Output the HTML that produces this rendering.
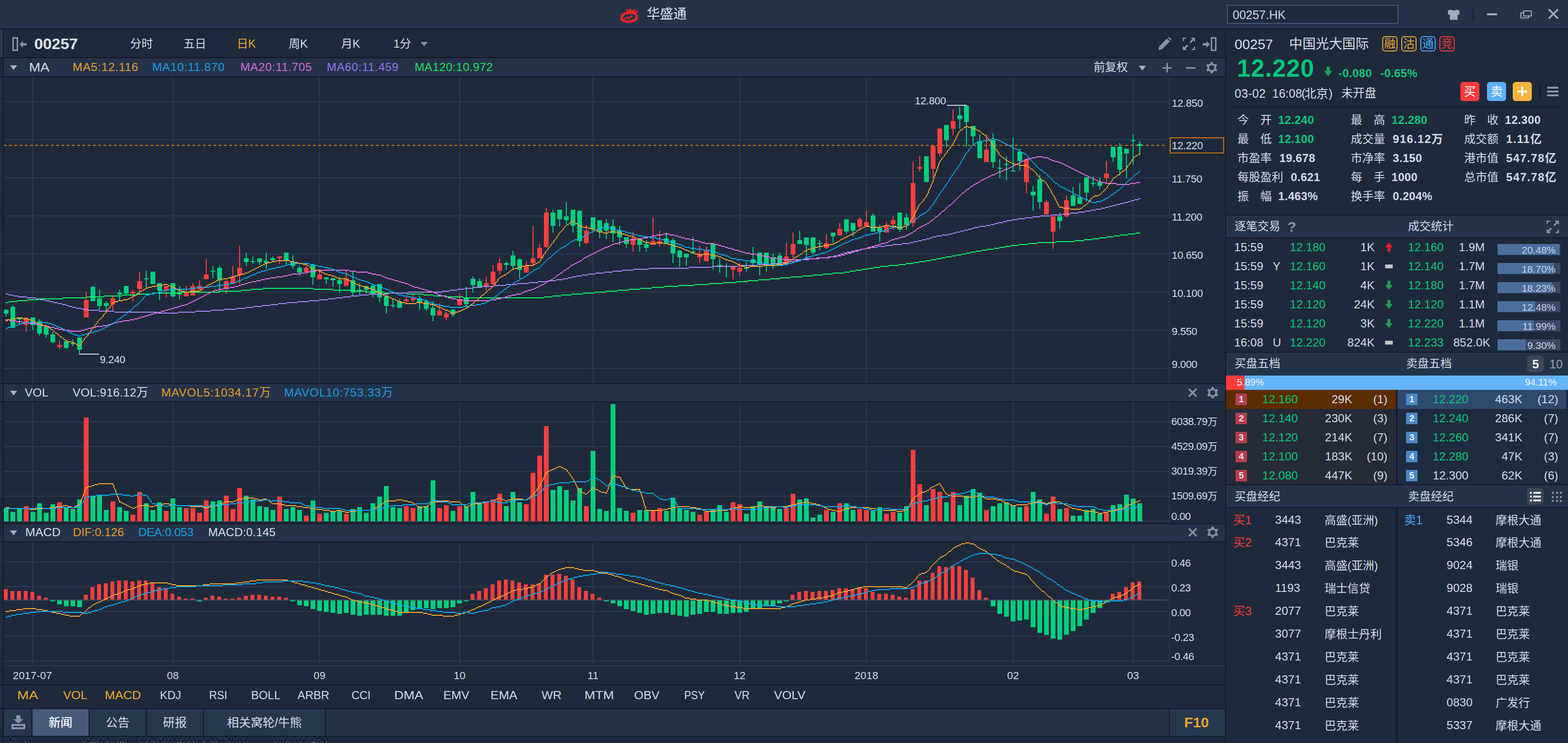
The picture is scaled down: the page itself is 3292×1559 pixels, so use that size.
<!DOCTYPE html>
<html lang="zh"><head><meta charset="utf-8"><title>华盛通 - 00257.HK</title>
<style>
html,body{margin:0;padding:0;background:#1e2a3b;}
body{width:3292px;height:1559px;position:relative;overflow:hidden;font-family:"Liberation Sans","Noto Sans CJK SC",sans-serif;}
.t{position:absolute;display:flex;align-items:center;white-space:nowrap;line-height:40px;}
#chart{position:absolute;left:0;top:0;}
</style></head><body>
<div style="position:absolute;left:0px;top:0px;width:3292px;height:60px;background:#243349;"></div><div style="position:absolute;left:0px;top:60px;width:3292px;height:2px;background:#17182a;"></div><div style="position:absolute;left:0px;top:62px;width:6px;height:1497px;background:#1e2a3b;"></div><div style="position:absolute;left:0px;top:162px;width:6px;height:80px;background:#222e41;"></div><div style="position:absolute;left:0px;top:322px;width:6px;height:80px;background:#222e41;"></div><div style="position:absolute;left:0px;top:482px;width:6px;height:80px;background:#222e41;"></div><div style="position:absolute;left:0px;top:642px;width:6px;height:80px;background:#222e41;"></div><div style="position:absolute;left:0px;top:802px;width:6px;height:80px;background:#222e41;"></div><div style="position:absolute;left:0px;top:962px;width:6px;height:80px;background:#222e41;"></div><div style="position:absolute;left:0px;top:1122px;width:6px;height:80px;background:#222e41;"></div><div style="position:absolute;left:0px;top:1282px;width:6px;height:80px;background:#222e41;"></div><div style="position:absolute;left:0px;top:1442px;width:6px;height:80px;background:#222e41;"></div><div style="position:absolute;left:0px;top:62px;width:6px;height:58px;background:#283a55;"></div><div style="position:absolute;left:6px;top:62px;width:2px;height:1497px;background:#17182a;"></div><div style="position:absolute;left:8px;top:62px;width:2564px;height:58px;background:#1e2a3b;"></div><div style="position:absolute;left:0px;top:120px;width:2574px;height:2px;background:#17182a;"></div><div style="position:absolute;left:8px;top:122px;width:2564px;height:38px;background:#243349;"></div><div style="position:absolute;left:0px;top:160px;width:2574px;height:2px;background:#17182a;"></div><div style="position:absolute;left:8px;top:162px;width:2564px;height:642px;background:#1e2a3b;"></div><div style="position:absolute;left:0px;top:804px;width:2574px;height:2px;background:#17182a;"></div><div style="position:absolute;left:8px;top:806px;width:2564px;height:36px;background:#243349;"></div><div style="position:absolute;left:0px;top:842px;width:2574px;height:2px;background:#17182a;"></div><div style="position:absolute;left:8px;top:844px;width:2564px;height:254px;background:#1e2a3b;"></div><div style="position:absolute;left:0px;top:1098px;width:2574px;height:2px;background:#17182a;"></div><div style="position:absolute;left:8px;top:1100px;width:2564px;height:36px;background:#243349;"></div><div style="position:absolute;left:0px;top:1136px;width:2574px;height:2px;background:#17182a;"></div><div style="position:absolute;left:8px;top:1138px;width:2564px;height:298px;background:#1e2a3b;"></div><div style="position:absolute;left:0px;top:1436px;width:2574px;height:2px;background:#17182a;"></div><div style="position:absolute;left:8px;top:1438px;width:2564px;height:48px;background:#1e2a3b;"></div><div style="position:absolute;left:0px;top:1486px;width:2574px;height:2px;background:#17182a;"></div><div style="position:absolute;left:8px;top:1488px;width:2564px;height:56px;background:#243349;"></div><div style="position:absolute;left:0px;top:1544px;width:2574px;height:2px;background:#17182a;"></div><div style="position:absolute;left:8px;top:1546px;width:2564px;height:13px;background:#1e2a3b;"></div><div style="position:absolute;left:2572px;top:62px;width:2px;height:1497px;background:#17182a;"></div><div style="position:absolute;left:2574px;top:62px;width:718px;height:1497px;background:#1e2a3b;"></div><svg id="chart" width="3292" height="1559" viewBox="0 0 3292 1559" shape-rendering="crispEdges"><rect x="8" y="212" width="2446" height="2" fill="#2b3850"/><rect x="8" y="292" width="2446" height="2" fill="#2b3850"/><rect x="8" y="372" width="2446" height="2" fill="#2b3850"/><rect x="8" y="452" width="2446" height="2" fill="#2b3850"/><rect x="8" y="532" width="2446" height="2" fill="#2b3850"/><rect x="8" y="612" width="2446" height="2" fill="#2b3850"/><rect x="8" y="692" width="2446" height="2" fill="#2b3850"/><rect x="8" y="772" width="2446" height="2" fill="#2b3850"/><rect x="8" y="884" width="2446" height="2" fill="#2b3850"/><rect x="8" y="936" width="2446" height="2" fill="#2b3850"/><rect x="8" y="988" width="2446" height="2" fill="#2b3850"/><rect x="8" y="1040" width="2446" height="2" fill="#2b3850"/><rect x="8" y="1092" width="2446" height="2" fill="#2b3850"/><rect x="8" y="1178" width="2446" height="2" fill="#2b3850"/><rect x="8" y="1230" width="2446" height="2" fill="#2b3850"/><rect x="8" y="1282" width="2446" height="2" fill="#2b3850"/><rect x="8" y="1334" width="2446" height="2" fill="#2b3850"/><rect x="8" y="1386" width="2446" height="2" fill="#2b3850"/><rect x="68" y="162" width="2" height="642" fill="#2b3850"/><rect x="68" y="844" width="2" height="254" fill="#2b3850"/><rect x="68" y="1138" width="2" height="256" fill="#2b3850"/><rect x="362" y="162" width="2" height="642" fill="#2b3850"/><rect x="362" y="844" width="2" height="254" fill="#2b3850"/><rect x="362" y="1138" width="2" height="256" fill="#2b3850"/><rect x="670" y="162" width="2" height="642" fill="#2b3850"/><rect x="670" y="844" width="2" height="254" fill="#2b3850"/><rect x="670" y="1138" width="2" height="256" fill="#2b3850"/><rect x="964" y="162" width="2" height="642" fill="#2b3850"/><rect x="964" y="844" width="2" height="254" fill="#2b3850"/><rect x="964" y="1138" width="2" height="256" fill="#2b3850"/><rect x="1244" y="162" width="2" height="642" fill="#2b3850"/><rect x="1244" y="844" width="2" height="254" fill="#2b3850"/><rect x="1244" y="1138" width="2" height="256" fill="#2b3850"/><rect x="1552" y="162" width="2" height="642" fill="#2b3850"/><rect x="1552" y="844" width="2" height="254" fill="#2b3850"/><rect x="1552" y="1138" width="2" height="256" fill="#2b3850"/><rect x="1818" y="162" width="2" height="642" fill="#2b3850"/><rect x="1818" y="844" width="2" height="254" fill="#2b3850"/><rect x="1818" y="1138" width="2" height="256" fill="#2b3850"/><rect x="2126" y="162" width="2" height="642" fill="#2b3850"/><rect x="2126" y="844" width="2" height="254" fill="#2b3850"/><rect x="2126" y="1138" width="2" height="256" fill="#2b3850"/><rect x="2378" y="162" width="2" height="642" fill="#2b3850"/><rect x="2378" y="844" width="2" height="254" fill="#2b3850"/><rect x="2378" y="1138" width="2" height="256" fill="#2b3850"/><rect x="2454" y="162" width="2" height="642" fill="#2b3850"/><rect x="2454" y="844" width="2" height="254" fill="#2b3850"/><rect x="2454" y="1138" width="2" height="256" fill="#2b3850"/><rect x="8" y="1396" width="2564" height="1.5" fill="#2b3850"/><line x1="8" y1="305" x2="2450" y2="305" stroke="#c87812" stroke-width="2" stroke-dasharray="6 5"/><rect x="12" y="648.0" width="2" height="16.0" fill="#00cf7e"/><rect x="8" y="650.0" width="10" height="7.7" fill="#00cf7e"/><rect x="26" y="640.0" width="2" height="48.0" fill="#00cf7e"/><rect x="22" y="644.0" width="10" height="44.0" fill="#00cf7e"/><rect x="40" y="666.0" width="2" height="16.4" fill="#00cf7e"/><rect x="36" y="666.0" width="10" height="3.7" fill="#00cf7e"/><rect x="54" y="666.0" width="2" height="30.0" fill="#ff3f3f"/><rect x="50" y="666.2" width="10" height="15.5" fill="#ff3f3f"/><rect x="68" y="666.0" width="2" height="26.0" fill="#00cf7e"/><rect x="64" y="666.0" width="10" height="15.7" fill="#00cf7e"/><rect x="82" y="670.0" width="2" height="34.0" fill="#00cf7e"/><rect x="78" y="674.0" width="10" height="26.0" fill="#00cf7e"/><rect x="96" y="682.4" width="2" height="25.6" fill="#00cf7e"/><rect x="92" y="684.6" width="10" height="17.2" fill="#00cf7e"/><rect x="110" y="696.0" width="2" height="24.0" fill="#00cf7e"/><rect x="106" y="702.0" width="10" height="15.8" fill="#00cf7e"/><rect x="124" y="714.0" width="2" height="18.0" fill="#ff3f3f"/><rect x="120" y="724.0" width="10" height="4.0" fill="#ff3f3f"/><rect x="138" y="716.0" width="2" height="16.0" fill="#00cf7e"/><rect x="134" y="716.0" width="10" height="14.0" fill="#00cf7e"/><rect x="152" y="712.0" width="2" height="14.0" fill="#00cf7e"/><rect x="148" y="720.2" width="10" height="2" fill="#00cf7e"/><rect x="166" y="708.0" width="2" height="34.5" fill="#00cf7e"/><rect x="162" y="708.0" width="10" height="26.0" fill="#00cf7e"/><rect x="180" y="612.0" width="2" height="54.0" fill="#ff3f3f"/><rect x="176" y="630.0" width="10" height="36.0" fill="#ff3f3f"/><rect x="194" y="600.0" width="2" height="31.6" fill="#00cf7e"/><rect x="190" y="602.0" width="10" height="29.6" fill="#00cf7e"/><rect x="208" y="608.0" width="2" height="42.0" fill="#00cf7e"/><rect x="204" y="626.0" width="10" height="16.0" fill="#00cf7e"/><rect x="222" y="632.0" width="2" height="20.0" fill="#00cf7e"/><rect x="218" y="636.0" width="10" height="6.0" fill="#00cf7e"/><rect x="236" y="620.0" width="2" height="32.0" fill="#ff3f3f"/><rect x="232" y="626.0" width="10" height="13.3" fill="#ff3f3f"/><rect x="250" y="608.0" width="2" height="22.0" fill="#00cf7e"/><rect x="246" y="614.0" width="10" height="4.2" fill="#00cf7e"/><rect x="264" y="600.0" width="2" height="20.3" fill="#00cf7e"/><rect x="260" y="600.0" width="10" height="16.0" fill="#00cf7e"/><rect x="278" y="608.0" width="2" height="24.0" fill="#ff3f3f"/><rect x="274" y="612.2" width="10" height="3.8" fill="#ff3f3f"/><rect x="292" y="570.0" width="2" height="48.0" fill="#ff3f3f"/><rect x="288" y="590.0" width="10" height="16.0" fill="#ff3f3f"/><rect x="306" y="568.0" width="2" height="36.0" fill="#00cf7e"/><rect x="302" y="584.0" width="10" height="2.0" fill="#00cf7e"/><rect x="320" y="570.0" width="2" height="26.0" fill="#00cf7e"/><rect x="316" y="570.0" width="10" height="26.0" fill="#00cf7e"/><rect x="334" y="594.0" width="2" height="36.0" fill="#00cf7e"/><rect x="330" y="594.0" width="10" height="16.0" fill="#00cf7e"/><rect x="348" y="600.0" width="2" height="24.0" fill="#ff3f3f"/><rect x="344" y="600.0" width="10" height="10.0" fill="#ff3f3f"/><rect x="362" y="594.0" width="2" height="30.0" fill="#00cf7e"/><rect x="358" y="594.0" width="10" height="28.0" fill="#00cf7e"/><rect x="376" y="600.0" width="2" height="28.0" fill="#00cf7e"/><rect x="372" y="611.6" width="10" height="6.4" fill="#00cf7e"/><rect x="390" y="600.0" width="2" height="21.8" fill="#ff3f3f"/><rect x="386" y="614.2" width="10" height="7.6" fill="#ff3f3f"/><rect x="404" y="594.0" width="2" height="25.8" fill="#ff3f3f"/><rect x="400" y="600.0" width="10" height="19.8" fill="#ff3f3f"/><rect x="418" y="588.0" width="2" height="20.0" fill="#ff3f3f"/><rect x="414" y="600.0" width="10" height="8.0" fill="#ff3f3f"/><rect x="432" y="544.0" width="2" height="42.0" fill="#ff3f3f"/><rect x="428" y="576.0" width="10" height="10.0" fill="#ff3f3f"/><rect x="446" y="558.0" width="2" height="26.0" fill="#00cf7e"/><rect x="442" y="568.0" width="10" height="2.0" fill="#00cf7e"/><rect x="460" y="558.0" width="2" height="55.7" fill="#00cf7e"/><rect x="456" y="562.0" width="10" height="26.0" fill="#00cf7e"/><rect x="474" y="588.0" width="2" height="28.0" fill="#ff3f3f"/><rect x="470" y="590.0" width="10" height="16.0" fill="#ff3f3f"/><rect x="488" y="558.0" width="2" height="36.0" fill="#ff3f3f"/><rect x="484" y="580.0" width="10" height="14.0" fill="#ff3f3f"/><rect x="502" y="516.0" width="2" height="80.0" fill="#ff3f3f"/><rect x="498" y="562.0" width="10" height="16.0" fill="#ff3f3f"/><rect x="516" y="530.0" width="2" height="28.0" fill="#00cf7e"/><rect x="512" y="542.0" width="10" height="8.0" fill="#00cf7e"/><rect x="530" y="538.0" width="2" height="16.0" fill="#00cf7e"/><rect x="526" y="548.0" width="10" height="2.0" fill="#00cf7e"/><rect x="544" y="542.0" width="2" height="14.0" fill="#00cf7e"/><rect x="540" y="542.0" width="10" height="8.0" fill="#00cf7e"/><rect x="558" y="530.0" width="2" height="34.0" fill="#00cf7e"/><rect x="554" y="548.0" width="10" height="4.0" fill="#00cf7e"/><rect x="572" y="538.0" width="2" height="10.0" fill="#00cf7e"/><rect x="568" y="542.0" width="10" height="4.0" fill="#00cf7e"/><rect x="586" y="538.0" width="2" height="16.0" fill="#ff3f3f"/><rect x="582" y="538.0" width="10" height="4.0" fill="#ff3f3f"/><rect x="600" y="530.0" width="2" height="25.0" fill="#00cf7e"/><rect x="596" y="530.0" width="10" height="16.0" fill="#00cf7e"/><rect x="614" y="536.0" width="2" height="28.0" fill="#00cf7e"/><rect x="610" y="550.0" width="10" height="8.0" fill="#00cf7e"/><rect x="628" y="558.0" width="2" height="20.0" fill="#00cf7e"/><rect x="624" y="562.0" width="10" height="10.0" fill="#00cf7e"/><rect x="642" y="558.0" width="2" height="18.0" fill="#ff3f3f"/><rect x="638" y="562.0" width="10" height="8.0" fill="#ff3f3f"/><rect x="656" y="556.0" width="2" height="42.0" fill="#00cf7e"/><rect x="652" y="556.0" width="10" height="26.0" fill="#00cf7e"/><rect x="670" y="568.0" width="2" height="18.0" fill="#ff3f3f"/><rect x="666" y="576.0" width="10" height="10.0" fill="#ff3f3f"/><rect x="684" y="582.0" width="2" height="14.0" fill="#00cf7e"/><rect x="680" y="582.0" width="10" height="4.0" fill="#00cf7e"/><rect x="698" y="582.0" width="2" height="20.0" fill="#00cf7e"/><rect x="694" y="584.0" width="10" height="4.0" fill="#00cf7e"/><rect x="712" y="580.0" width="2" height="34.0" fill="#00cf7e"/><rect x="708" y="588.0" width="10" height="8.0" fill="#00cf7e"/><rect x="726" y="568.0" width="2" height="32.0" fill="#ff3f3f"/><rect x="722" y="584.0" width="10" height="16.0" fill="#ff3f3f"/><rect x="740" y="570.0" width="2" height="51.6" fill="#00cf7e"/><rect x="736" y="588.0" width="10" height="26.0" fill="#00cf7e"/><rect x="754" y="594.0" width="2" height="24.0" fill="#00cf7e"/><rect x="750" y="608.0" width="10" height="3.7" fill="#00cf7e"/><rect x="768" y="600.0" width="2" height="16.0" fill="#00cf7e"/><rect x="764" y="600.0" width="10" height="8.0" fill="#00cf7e"/><rect x="782" y="596.0" width="2" height="28.0" fill="#00cf7e"/><rect x="778" y="600.0" width="10" height="16.0" fill="#00cf7e"/><rect x="796" y="596.0" width="2" height="38.0" fill="#00cf7e"/><rect x="792" y="596.0" width="10" height="28.0" fill="#00cf7e"/><rect x="810" y="622.0" width="2" height="36.0" fill="#00cf7e"/><rect x="806" y="622.0" width="10" height="20.0" fill="#00cf7e"/><rect x="824" y="628.0" width="2" height="18.0" fill="#00cf7e"/><rect x="820" y="640.0" width="10" height="2.0" fill="#00cf7e"/><rect x="838" y="628.0" width="2" height="18.0" fill="#00cf7e"/><rect x="834" y="632.0" width="10" height="14.0" fill="#00cf7e"/><rect x="852" y="622.0" width="2" height="14.0" fill="#ff3f3f"/><rect x="848" y="628.0" width="10" height="4.0" fill="#ff3f3f"/><rect x="866" y="618.0" width="2" height="16.0" fill="#ff3f3f"/><rect x="862" y="626.0" width="10" height="4.0" fill="#ff3f3f"/><rect x="880" y="620.0" width="2" height="30.0" fill="#00cf7e"/><rect x="876" y="626.0" width="10" height="8.0" fill="#00cf7e"/><rect x="894" y="628.0" width="2" height="24.0" fill="#00cf7e"/><rect x="890" y="632.0" width="10" height="16.0" fill="#00cf7e"/><rect x="908" y="632.0" width="2" height="42.0" fill="#00cf7e"/><rect x="904" y="646.0" width="10" height="16.0" fill="#00cf7e"/><rect x="922" y="636.0" width="2" height="26.0" fill="#ff3f3f"/><rect x="918" y="652.0" width="10" height="10.0" fill="#ff3f3f"/><rect x="936" y="654.0" width="2" height="18.0" fill="#ff3f3f"/><rect x="932" y="658.0" width="10" height="8.0" fill="#ff3f3f"/><rect x="950" y="648.0" width="2" height="16.0" fill="#00cf7e"/><rect x="946" y="650.0" width="10" height="10.0" fill="#00cf7e"/><rect x="964" y="616.0" width="2" height="26.0" fill="#ff3f3f"/><rect x="960" y="630.0" width="10" height="10.0" fill="#ff3f3f"/><rect x="978" y="602.0" width="2" height="40.0" fill="#00cf7e"/><rect x="974" y="624.0" width="10" height="14.0" fill="#00cf7e"/><rect x="992" y="580.0" width="2" height="34.0" fill="#00cf7e"/><rect x="988" y="584.5" width="10" height="13.5" fill="#00cf7e"/><rect x="1006" y="584.0" width="2" height="18.0" fill="#00cf7e"/><rect x="1002" y="590.0" width="10" height="12.0" fill="#00cf7e"/><rect x="1020" y="580.0" width="2" height="30.0" fill="#ff3f3f"/><rect x="1016" y="594.0" width="10" height="8.0" fill="#ff3f3f"/><rect x="1034" y="556.0" width="2" height="42.0" fill="#ff3f3f"/><rect x="1030" y="570.0" width="10" height="26.0" fill="#ff3f3f"/><rect x="1048" y="542.0" width="2" height="34.0" fill="#ff3f3f"/><rect x="1044" y="552.0" width="10" height="16.0" fill="#ff3f3f"/><rect x="1062" y="548.0" width="2" height="18.0" fill="#00cf7e"/><rect x="1058" y="552.3" width="10" height="3.7" fill="#00cf7e"/><rect x="1076" y="526.0" width="2" height="40.0" fill="#00cf7e"/><rect x="1072" y="536.0" width="10" height="22.0" fill="#00cf7e"/><rect x="1090" y="542.0" width="2" height="42.0" fill="#00cf7e"/><rect x="1086" y="544.0" width="10" height="22.0" fill="#00cf7e"/><rect x="1104" y="548.0" width="2" height="24.0" fill="#ff3f3f"/><rect x="1100" y="558.0" width="10" height="14.0" fill="#ff3f3f"/><rect x="1118" y="474.0" width="2" height="82.0" fill="#ff3f3f"/><rect x="1114" y="542.0" width="10" height="10.0" fill="#ff3f3f"/><rect x="1132" y="512.0" width="2" height="30.0" fill="#ff3f3f"/><rect x="1128" y="520.0" width="10" height="22.0" fill="#ff3f3f"/><rect x="1146" y="436.0" width="2" height="84.0" fill="#ff3f3f"/><rect x="1142" y="446.0" width="10" height="72.0" fill="#ff3f3f"/><rect x="1160" y="440.0" width="2" height="48.0" fill="#00cf7e"/><rect x="1156" y="446.0" width="10" height="28.0" fill="#00cf7e"/><rect x="1174" y="440.0" width="2" height="36.0" fill="#00cf7e"/><rect x="1170" y="440.0" width="10" height="19.5" fill="#00cf7e"/><rect x="1188" y="424.0" width="2" height="46.0" fill="#00cf7e"/><rect x="1184" y="454.0" width="10" height="8.0" fill="#00cf7e"/><rect x="1202" y="440.0" width="2" height="48.0" fill="#00cf7e"/><rect x="1198" y="440.0" width="10" height="34.0" fill="#00cf7e"/><rect x="1216" y="442.0" width="2" height="76.0" fill="#00cf7e"/><rect x="1212" y="442.0" width="10" height="64.0" fill="#00cf7e"/><rect x="1230" y="472.0" width="2" height="40.0" fill="#ff3f3f"/><rect x="1226" y="484.0" width="10" height="26.0" fill="#ff3f3f"/><rect x="1244" y="456.0" width="2" height="32.0" fill="#00cf7e"/><rect x="1240" y="456.0" width="10" height="26.0" fill="#00cf7e"/><rect x="1258" y="462.0" width="2" height="38.0" fill="#00cf7e"/><rect x="1254" y="462.0" width="10" height="24.0" fill="#00cf7e"/><rect x="1272" y="460.0" width="2" height="42.0" fill="#00cf7e"/><rect x="1268" y="468.0" width="10" height="16.0" fill="#00cf7e"/><rect x="1286" y="460.0" width="2" height="48.0" fill="#00cf7e"/><rect x="1282" y="474.0" width="10" height="16.0" fill="#00cf7e"/><rect x="1300" y="474.0" width="2" height="40.0" fill="#00cf7e"/><rect x="1296" y="484.0" width="10" height="14.0" fill="#00cf7e"/><rect x="1314" y="498.0" width="2" height="22.0" fill="#00cf7e"/><rect x="1310" y="498.0" width="10" height="14.0" fill="#00cf7e"/><rect x="1328" y="486.0" width="2" height="42.0" fill="#ff3f3f"/><rect x="1324" y="500.0" width="10" height="14.0" fill="#ff3f3f"/><rect x="1342" y="500.0" width="2" height="28.0" fill="#00cf7e"/><rect x="1338" y="500.0" width="10" height="14.0" fill="#00cf7e"/><rect x="1356" y="504.0" width="2" height="24.0" fill="#00cf7e"/><rect x="1352" y="512.0" width="10" height="8.0" fill="#00cf7e"/><rect x="1370" y="456.0" width="2" height="58.0" fill="#ff3f3f"/><rect x="1366" y="506.0" width="10" height="8.0" fill="#ff3f3f"/><rect x="1384" y="484.0" width="2" height="34.0" fill="#ff3f3f"/><rect x="1380" y="506.0" width="10" height="6.0" fill="#ff3f3f"/><rect x="1398" y="488.0" width="2" height="24.0" fill="#00cf7e"/><rect x="1394" y="500.0" width="10" height="12.0" fill="#00cf7e"/><rect x="1412" y="500.0" width="2" height="52.0" fill="#00cf7e"/><rect x="1408" y="504.0" width="10" height="28.0" fill="#00cf7e"/><rect x="1426" y="524.0" width="2" height="36.0" fill="#00cf7e"/><rect x="1422" y="526.0" width="10" height="14.0" fill="#00cf7e"/><rect x="1440" y="532.0" width="2" height="26.0" fill="#00cf7e"/><rect x="1436" y="532.0" width="10" height="8.0" fill="#00cf7e"/><rect x="1454" y="498.0" width="2" height="32.4" fill="#00cf7e"/><rect x="1450" y="528.0" width="10" height="2.4" fill="#00cf7e"/><rect x="1468" y="516.0" width="2" height="36.0" fill="#ff3f3f"/><rect x="1464" y="532.0" width="10" height="8.0" fill="#ff3f3f"/><rect x="1482" y="518.0" width="2" height="30.0" fill="#ff3f3f"/><rect x="1478" y="526.0" width="10" height="22.0" fill="#ff3f3f"/><rect x="1496" y="512.0" width="2" height="54.0" fill="#00cf7e"/><rect x="1492" y="512.0" width="10" height="32.0" fill="#00cf7e"/><rect x="1510" y="542.0" width="2" height="30.0" fill="#00cf7e"/><rect x="1506" y="556.0" width="10" height="4.0" fill="#00cf7e"/><rect x="1524" y="552.0" width="2" height="30.0" fill="#00cf7e"/><rect x="1520" y="558.0" width="10" height="2.0" fill="#00cf7e"/><rect x="1538" y="560.0" width="2" height="26.0" fill="#ff3f3f"/><rect x="1534" y="560.0" width="10" height="6.0" fill="#ff3f3f"/><rect x="1552" y="552.0" width="2" height="26.0" fill="#ff3f3f"/><rect x="1548" y="562.0" width="10" height="8.0" fill="#ff3f3f"/><rect x="1566" y="550.0" width="2" height="20.0" fill="#00cf7e"/><rect x="1562" y="562.0" width="10" height="2.0" fill="#00cf7e"/><rect x="1580" y="518.0" width="2" height="38.0" fill="#00cf7e"/><rect x="1576" y="544.0" width="10" height="8.0" fill="#00cf7e"/><rect x="1594" y="530.0" width="2" height="48.0" fill="#00cf7e"/><rect x="1590" y="530.0" width="10" height="26.0" fill="#00cf7e"/><rect x="1608" y="530.0" width="2" height="40.0" fill="#00cf7e"/><rect x="1604" y="530.0" width="10" height="26.0" fill="#00cf7e"/><rect x="1622" y="532.0" width="2" height="32.0" fill="#00cf7e"/><rect x="1618" y="542.0" width="10" height="14.0" fill="#00cf7e"/><rect x="1636" y="530.0" width="2" height="24.0" fill="#00cf7e"/><rect x="1632" y="536.0" width="10" height="18.0" fill="#00cf7e"/><rect x="1650" y="510.0" width="2" height="44.0" fill="#ff3f3f"/><rect x="1646" y="538.0" width="10" height="16.0" fill="#ff3f3f"/><rect x="1664" y="488.0" width="2" height="52.0" fill="#ff3f3f"/><rect x="1660" y="512.0" width="10" height="22.0" fill="#ff3f3f"/><rect x="1678" y="484.0" width="2" height="28.0" fill="#00cf7e"/><rect x="1674" y="504.0" width="10" height="8.0" fill="#00cf7e"/><rect x="1692" y="498.0" width="2" height="42.0" fill="#00cf7e"/><rect x="1688" y="498.0" width="10" height="16.0" fill="#00cf7e"/><rect x="1706" y="498.0" width="2" height="36.0" fill="#00cf7e"/><rect x="1702" y="498.0" width="10" height="32.0" fill="#00cf7e"/><rect x="1720" y="504.0" width="2" height="22.0" fill="#00cf7e"/><rect x="1716" y="510.0" width="10" height="2.0" fill="#00cf7e"/><rect x="1734" y="492.0" width="2" height="30.0" fill="#ff3f3f"/><rect x="1730" y="510.0" width="10" height="10.0" fill="#ff3f3f"/><rect x="1748" y="488.0" width="2" height="22.0" fill="#00cf7e"/><rect x="1744" y="488.0" width="10" height="8.0" fill="#00cf7e"/><rect x="1762" y="468.0" width="2" height="26.0" fill="#ff3f3f"/><rect x="1758" y="480.0" width="10" height="14.0" fill="#ff3f3f"/><rect x="1776" y="460.0" width="2" height="30.0" fill="#00cf7e"/><rect x="1772" y="460.0" width="10" height="26.0" fill="#00cf7e"/><rect x="1790" y="468.0" width="2" height="28.0" fill="#00cf7e"/><rect x="1786" y="468.0" width="10" height="16.0" fill="#00cf7e"/><rect x="1804" y="456.0" width="2" height="24.0" fill="#ff3f3f"/><rect x="1800" y="460.0" width="10" height="16.0" fill="#ff3f3f"/><rect x="1818" y="442.0" width="2" height="32.0" fill="#ff3f3f"/><rect x="1814" y="466.0" width="10" height="8.0" fill="#ff3f3f"/><rect x="1832" y="448.0" width="2" height="38.0" fill="#00cf7e"/><rect x="1828" y="452.0" width="10" height="34.0" fill="#00cf7e"/><rect x="1846" y="472.0" width="2" height="36.0" fill="#00cf7e"/><rect x="1842" y="478.0" width="10" height="8.0" fill="#00cf7e"/><rect x="1860" y="466.0" width="2" height="22.0" fill="#ff3f3f"/><rect x="1856" y="472.0" width="10" height="16.0" fill="#ff3f3f"/><rect x="1874" y="454.0" width="2" height="28.0" fill="#ff3f3f"/><rect x="1870" y="462.0" width="10" height="8.0" fill="#ff3f3f"/><rect x="1888" y="446.0" width="2" height="40.0" fill="#00cf7e"/><rect x="1884" y="446.0" width="10" height="36.0" fill="#00cf7e"/><rect x="1902" y="448.0" width="2" height="34.0" fill="#00cf7e"/><rect x="1898" y="456.0" width="10" height="16.0" fill="#00cf7e"/><rect x="1916" y="340.0" width="2" height="136.0" fill="#ff3f3f"/><rect x="1912" y="384.0" width="10" height="84.0" fill="#ff3f3f"/><rect x="1930" y="328.0" width="2" height="32.0" fill="#ff3f3f"/><rect x="1926" y="350.0" width="10" height="4.0" fill="#ff3f3f"/><rect x="1944" y="328.0" width="2" height="54.0" fill="#00cf7e"/><rect x="1940" y="328.0" width="10" height="54.0" fill="#00cf7e"/><rect x="1958" y="306.0" width="2" height="68.0" fill="#ff3f3f"/><rect x="1954" y="306.0" width="10" height="48.0" fill="#ff3f3f"/><rect x="1972" y="268.0" width="2" height="60.0" fill="#ff3f3f"/><rect x="1968" y="270.0" width="10" height="52.0" fill="#ff3f3f"/><rect x="1986" y="262.0" width="2" height="48.0" fill="#00cf7e"/><rect x="1982" y="262.0" width="10" height="32.0" fill="#00cf7e"/><rect x="2000" y="230.0" width="2" height="54.0" fill="#ff3f3f"/><rect x="1996" y="254.0" width="10" height="16.0" fill="#ff3f3f"/><rect x="2014" y="224.0" width="2" height="46.0" fill="#00cf7e"/><rect x="2010" y="242.0" width="10" height="8.0" fill="#00cf7e"/><rect x="2028" y="222.0" width="2" height="86.0" fill="#00cf7e"/><rect x="2024" y="222.0" width="10" height="34.0" fill="#00cf7e"/><rect x="2042" y="264.0" width="2" height="38.0" fill="#00cf7e"/><rect x="2038" y="264.0" width="10" height="22.0" fill="#00cf7e"/><rect x="2056" y="282.0" width="2" height="50.0" fill="#00cf7e"/><rect x="2052" y="296.0" width="10" height="36.0" fill="#00cf7e"/><rect x="2070" y="282.0" width="2" height="58.0" fill="#ff3f3f"/><rect x="2066" y="314.0" width="10" height="26.0" fill="#ff3f3f"/><rect x="2084" y="280.0" width="2" height="72.0" fill="#00cf7e"/><rect x="2080" y="294.0" width="10" height="46.0" fill="#00cf7e"/><rect x="2098" y="334.0" width="2" height="40.0" fill="#00cf7e"/><rect x="2094" y="352.0" width="10" height="2.0" fill="#00cf7e"/><rect x="2112" y="328.0" width="2" height="50.0" fill="#00cf7e"/><rect x="2108" y="344.0" width="10" height="2.0" fill="#00cf7e"/><rect x="2126" y="288.0" width="2" height="72.0" fill="#00cf7e"/><rect x="2122" y="358.0" width="10" height="2.0" fill="#00cf7e"/><rect x="2140" y="312.0" width="2" height="46.0" fill="#00cf7e"/><rect x="2136" y="318.0" width="10" height="20.0" fill="#00cf7e"/><rect x="2154" y="332.0" width="2" height="74.0" fill="#ff3f3f"/><rect x="2150" y="334.0" width="10" height="48.0" fill="#ff3f3f"/><rect x="2168" y="390.0" width="2" height="52.0" fill="#00cf7e"/><rect x="2164" y="402.0" width="10" height="8.0" fill="#00cf7e"/><rect x="2182" y="366.0" width="2" height="72.0" fill="#00cf7e"/><rect x="2178" y="376.0" width="10" height="48.0" fill="#00cf7e"/><rect x="2196" y="420.0" width="2" height="30.0" fill="#ff3f3f"/><rect x="2192" y="424.0" width="10" height="26.0" fill="#ff3f3f"/><rect x="2210" y="454.0" width="2" height="68.0" fill="#ff3f3f"/><rect x="2206" y="454.0" width="10" height="32.0" fill="#ff3f3f"/><rect x="2224" y="446.0" width="2" height="34.0" fill="#00cf7e"/><rect x="2220" y="454.0" width="10" height="10.0" fill="#00cf7e"/><rect x="2238" y="410.0" width="2" height="46.0" fill="#ff3f3f"/><rect x="2234" y="420.0" width="10" height="34.0" fill="#ff3f3f"/><rect x="2252" y="392.0" width="2" height="40.0" fill="#00cf7e"/><rect x="2248" y="410.0" width="10" height="22.0" fill="#00cf7e"/><rect x="2266" y="384.0" width="2" height="44.0" fill="#00cf7e"/><rect x="2262" y="414.0" width="10" height="14.0" fill="#00cf7e"/><rect x="2280" y="372.0" width="2" height="50.0" fill="#00cf7e"/><rect x="2276" y="372.0" width="10" height="32.0" fill="#00cf7e"/><rect x="2294" y="370.0" width="2" height="22.0" fill="#00cf7e"/><rect x="2290" y="384.0" width="10" height="2.0" fill="#00cf7e"/><rect x="2308" y="372.0" width="2" height="26.0" fill="#00cf7e"/><rect x="2304" y="382.0" width="10" height="8.0" fill="#00cf7e"/><rect x="2322" y="338.0" width="2" height="46.0" fill="#ff3f3f"/><rect x="2318" y="364.0" width="10" height="10.0" fill="#ff3f3f"/><rect x="2336" y="308.0" width="2" height="32.0" fill="#00cf7e"/><rect x="2332" y="308.0" width="10" height="22.0" fill="#00cf7e"/><rect x="2350" y="300.0" width="2" height="68.0" fill="#00cf7e"/><rect x="2346" y="308.0" width="10" height="48.0" fill="#00cf7e"/><rect x="2364" y="312.0" width="2" height="62.0" fill="#00cf7e"/><rect x="2360" y="312.0" width="10" height="10.0" fill="#00cf7e"/><rect x="2378" y="282.0" width="2" height="64.0" fill="#00cf7e"/><rect x="2374" y="294.0" width="10" height="2.0" fill="#00cf7e"/><rect x="2392" y="296.0" width="2" height="30.0" fill="#00cf7e"/><rect x="2388" y="302.0" width="10" height="4.0" fill="#00cf7e"/><path d="M2384 489h10M2368 491h16M2352 493h16M2338 495h14M2324 497h14M2308 499h16M2294 501h14M2276 503h18M2256 505h20M2216 507h40M2178 509h38M2158 511h20M2138 513h20M2122 515h16M2110 517h12M2098 519h12M2086 521h12M2072 523h14M2060 525h12M2048 527h12M2038 529h10M2028 531h10M2018 533h10M2008 535h10M1998 537h10M1986 539h12M1976 541h10M1966 543h10M1954 545h12M1942 547h12M1930 549h12M1918 551h12M1902 553h16M1886 555h16M1866 557h20M1848 559h18M1834 561h14M1822 563h12M1810 565h12M1796 567h14M1784 569h12M1772 571h12M1748 573h24M1728 575h20M1706 577h22M1684 579h22M1660 581h24M1638 583h22M1616 585h22M1592 587h24M1570 589h22M1546 591h24M1518 593h28M1488 595h30M1458 597h30M1424 599h34M1394 601h30M1368 603h26M552 605h106M1344 605h24M526 607h26M658 607h42M1320 607h24M506 609h20M700 609h42M1296 609h24M460 611h46M742 611h28M1272 611h24M380 613h80M770 613h36M1248 613h24M320 615h60M806 615h48M1224 615h24M288 617h32M854 617h36M1200 617h24M256 619h32M890 619h20M1178 619h22M218 621h38M910 621h28M1160 621h18M182 623h36M938 623h34M1142 623h18M132 625h50M972 625h170M82 627h50M58 629h24M36 631h22M18 633h18M12 635h6" fill="none" stroke="#00ff66" stroke-width="2"/><path d="M2390 417h4M2382 419h8M2374 421h8M2368 423h6M2360 425h8M2352 427h8M2344 429h8M2336 431h8M2328 433h8M2320 435h8M2312 437h8M2300 439h12M2290 441h10M2278 443h12M2264 445h14M2248 447h16M2230 449h18M2206 451h24M2184 453h22M2168 455h16M2152 457h16M2136 459h16M2124 461h12M2114 463h10M2106 465h8M2096 467h10M2088 469h8M2080 471h8M2070 473h10M2056 475h14M2046 477h10M2040 479h6M2032 481h8M2024 483h8M2016 485h8M2008 487h8M2000 489h8M1992 491h8M1978 493h14M1966 495h12M1958 497h8M1952 499h6M1944 501h8M1936 503h8M1928 505h8M1918 507h10M1910 509h8M1894 511h16M1874 513h20M1858 515h16M1842 517h16M1828 519h14M1816 521h12M1806 523h10M1796 525h10M1788 527h8M1778 529h10M1770 531h8M1764 533h6M1760 535h4M1750 537h10M1738 539h12M1720 541h18M1698 543h22M1682 545h16M1670 547h12M1656 549h14M1640 551h16M1618 553h22M1590 555h28M1550 557h40M1494 559h56M1446 561h48M1362 563h84M1330 565h32M1306 567h24M1286 569h20M1268 571h18M1250 573h18M1234 575h16M1222 577h12M1210 579h12M1200 581h10M1192 583h8M1182 585h10M1168 587h14M1150 589h18M1130 591h20M1110 593h20M1086 595h24M1062 597h24M1036 599h26M1012 601h24M992 603h20M976 605h16M960 607h16M944 609h16M928 611h16M856 613h72M816 615h40M12 617h6M774 617h42M18 619h10M754 619h20M28 621h10M736 621h18M38 623h18M720 623h16M56 625h20M704 625h16M76 627h8M688 627h16M84 629h10M670 629h18M94 631h10M648 631h22M104 633h8M624 633h24M112 635h10M602 635h22M122 637h8M584 637h18M130 639h8M568 639h16M138 641h6M550 641h18M144 643h8M532 643h18M152 645h8M516 645h16M160 647h12M496 647h20M172 649h14M470 649h26M186 651h22M442 651h28M208 653h32M410 653h32M240 655h90M374 655h36M330 657h44" fill="none" stroke="#aa88ff" stroke-width="2"/><path d="M2176 329h14M2166 331h10M2190 331h10M2158 333h8M2200 333h4M2152 335h6M2204 335h4M2148 337h4M2208 337h6M2144 339h4M2214 339h8M2140 341h4M2222 341h6M2136 343h4M2228 343h4M2132 345h4M2232 345h4M2128 347h4M2236 347h4M2124 349h4M2240 349h4M2120 351h4M2244 351h4M2116 353h4M2248 353h4M2110 355h6M2252 355h4M2106 357h4M2256 357h4M2102 359h4M2260 359h4M2096 361h6M2264 361h4M2092 363h4M2268 363h4M2088 365h4M2272 365h4M2082 367h6M2276 367h4M2078 369h4M2280 369h4M2074 371h4M2284 371h4M2070 373h4M2288 373h4M2066 375h4M2292 375h6M2062 377h4M2298 377h4M2058 379h4M2302 379h4M2056 381h2M2306 381h6M2052 383h4M2312 383h8M2386 383h8M2048 385h4M2320 385h24M2372 385h14M2044 387h4M2344 387h28M2042 389h2M2038 391h4M2036 393h2M2034 395h2M2030 397h4M2028 399h2M2026 401h2M2024 403h2M2020 405h4M2018 407h2M2016 409h2M2014 411h2M2012 413h2M2010 415h2M2008 417h2M2006 419h2M2004 421h2M2002 423h2M2000 425h2M1998 427h2M1996 429h2M1992 431h4M1990 433h2M1988 435h2M1986 437h2M1984 439h2M1982 441h2M1978 443h4M1976 445h2M1974 447h2M1972 449h2M1970 451h2M1968 453h2M1964 455h4M1962 457h2M1960 459h2M1958 461h2M1954 463h4M1952 465h2M1950 467h2M1946 469h4M1942 471h4M1938 473h4M1934 475h4M1930 477h4M1926 479h4M1924 481h2M1922 483h2M1918 485h4M1916 487h2M1912 489h4M1392 491h14M1908 491h4M1378 493h14M1406 493h10M1904 493h4M1368 495h10M1416 495h8M1900 495h4M1360 497h8M1424 497h6M1892 497h8M1350 499h10M1430 499h8M1886 499h6M1336 501h14M1438 501h10M1878 501h8M1322 503h14M1448 503h10M1872 503h6M1312 505h10M1458 505h8M1868 505h4M1304 507h8M1466 507h6M1864 507h4M1298 509h6M1472 509h8M1858 509h6M1290 511h8M1480 511h20M1850 511h8M1284 513h6M1500 513h8M1844 513h6M1280 515h4M1508 515h6M1836 515h8M1276 517h4M1514 517h8M1830 517h6M1270 519h6M1522 519h6M1822 519h8M1266 521h4M1528 521h8M1816 521h6M1262 523h4M1536 523h6M1808 523h8M1258 525h4M1542 525h8M1802 525h6M1254 527h4M1550 527h6M1794 527h8M1250 529h4M1556 529h8M1788 529h6M1246 531h4M1564 531h10M1780 531h8M1242 533h4M1574 533h14M1774 533h6M1238 535h4M1588 535h10M1766 535h8M1234 537h4M1598 537h8M1756 537h10M1230 539h4M1606 539h10M1742 539h14M1226 541h4M1616 541h14M1714 541h28M1224 543h2M1630 543h14M1686 543h28M1222 545h2M1644 545h42M1218 547h4M1214 549h4M1210 551h4M1206 553h4M1202 555h4M1198 557h4M1196 559h2M1194 561h2M1190 563h4M1188 565h2M664 567h70M1184 567h4M650 569h14M734 569h14M1182 569h2M640 571h10M748 571h24M1180 571h2M632 573h8M772 573h8M1176 573h4M612 575h20M780 575h10M1174 575h2M604 577h8M790 577h10M1170 577h4M594 579h10M800 579h4M1168 579h2M580 581h14M804 581h4M1166 581h2M566 583h14M808 583h6M1162 583h4M556 585h10M814 585h8M1160 585h2M548 587h8M822 587h6M1156 587h4M538 589h10M828 589h8M1152 589h4M528 591h10M836 591h6M1148 591h4M520 593h8M842 593h8M1146 593h2M514 595h6M850 595h6M1142 595h4M506 597h8M856 597h4M1138 597h4M500 599h6M860 599h4M1134 599h4M492 601h8M864 601h6M1130 601h4M482 603h10M870 603h8M1126 603h4M468 605h14M878 605h6M1122 605h4M458 607h10M884 607h8M1116 607h6M450 609h8M892 609h6M1108 609h8M446 611h4M898 611h8M1102 611h6M442 613h4M906 613h6M1098 613h4M438 615h4M912 615h4M1094 615h4M434 617h4M916 617h4M1084 617h10M430 619h4M920 619h6M1074 619h10M426 621h4M926 621h8M1066 621h8M422 623h4M934 623h6M1060 623h6M418 625h4M940 625h8M1052 625h8M414 627h4M948 627h10M1042 627h10M410 629h4M958 629h14M1028 629h14M406 631h4M972 631h56M402 633h4M398 635h4M394 637h4M388 639h6M380 641h8M374 643h6M366 645h8M360 647h6M352 649h8M346 651h6M338 653h8M332 655h6M324 657h8M318 659h6M310 661h8M304 663h6M296 665h8M290 667h6M282 669h8M12 671h8M272 671h10M20 673h14M258 673h14M34 675h14M248 675h10M48 677h14M240 677h8M62 679h14M234 679h6M76 681h10M226 681h8M86 683h8M216 683h10M94 685h10M202 685h14M104 687h10M192 687h10M114 689h8M184 689h8M122 691h10M178 691h6M132 693h14M170 693h8M146 695h24" fill="none" stroke="#ee70ee" stroke-width="2"/><path d="M2082 291h6M2074 293h8M2088 293h8M2064 295h10M2096 295h4M2054 297h10M2100 297h4M2050 299h4M2104 299h4M2046 301h4M2108 301h4M2042 303h4M2112 303h4M2040 305h2M2116 305h4M2038 307h2M2120 307h4M2038 309h2M2124 309h4M2036 311h2M2128 311h4M2034 313h2M2132 313h4M2032 315h2M2136 315h4M2032 317h2M2140 317h2M2030 319h2M2142 319h4M2028 321h2M2146 321h4M2026 323h2M2150 323h4M2026 325h2M2154 325h2M2024 327h2M2156 327h2M2024 329h2M2158 329h2M2022 331h2M2160 331h2M2022 333h2M2162 333h2M2020 335h2M2162 335h2M2018 337h2M2164 337h2M2018 339h2M2166 339h2M2016 341h2M2168 341h2M2016 343h2M2170 343h2M2014 345h2M2172 345h2M2012 347h2M2174 347h2M2012 349h2M2176 349h2M2010 351h2M2178 351h2M2008 353h2M2180 353h2M2008 355h2M2182 355h2M2006 357h2M2184 357h4M2004 359h2M2188 359h2M2392 359h2M2002 361h2M2190 361h2M2390 361h2M2002 363h2M2192 363h4M2388 363h2M2000 365h2M2196 365h2M2384 365h4M1998 367h2M2198 367h2M2382 367h2M1998 369h2M2200 369h2M2380 369h2M1996 371h2M2202 371h2M2378 371h2M1994 373h2M2204 373h2M2376 373h2M1994 375h2M2206 375h2M2374 375h2M1992 377h2M2208 377h2M2370 377h4M1992 379h2M2210 379h2M2368 379h2M1990 381h2M2212 381h2M2366 381h2M1988 383h2M2214 383h2M2364 383h2M1988 385h2M2216 385h4M2362 385h2M1986 387h2M2220 387h2M2360 387h2M1984 389h2M2222 389h2M2358 389h2M1984 391h2M2224 391h4M2356 391h2M1982 393h2M2228 393h4M2354 393h2M1980 395h2M2232 395h4M2352 395h2M1980 397h2M2236 397h4M2350 397h2M1978 399h2M2240 399h4M2346 399h4M1976 401h2M2244 401h4M2344 401h2M1974 403h2M2248 403h4M2342 403h2M1974 405h2M2252 405h2M2338 405h4M1972 407h2M2254 407h4M2336 407h2M1970 409h2M2258 409h4M2332 409h4M1970 411h2M2262 411h4M2330 411h2M1968 413h2M2266 413h4M2328 413h2M1966 415h2M2270 415h4M2324 415h4M1966 417h2M2274 417h4M2320 417h4M1964 419h2M2278 419h6M2316 419h4M1964 421h2M2284 421h4M2312 421h4M1962 423h2M2288 423h4M2302 423h10M1960 425h2M2292 425h10M1960 427h2M1958 429h2M1956 431h2M1954 433h2M1952 435h2M1952 437h2M1950 439h2M1948 441h2M1946 443h2M1944 445h2M1940 447h4M1936 449h4M1932 451h4M1930 453h2M1928 455h2M1926 457h2M1922 459h4M1920 461h2M1918 463h2M1916 465h2M1912 467h4M1910 469h2M1908 471h2M1904 473h4M1270 475h6M1896 475h8M1262 477h8M1276 477h4M1872 477h24M1256 479h6M1280 479h4M1868 479h4M1252 481h4M1284 481h10M1864 481h4M1248 483h4M1294 483h10M1858 483h6M1244 485h4M1304 485h8M1850 485h8M1240 487h4M1312 487h6M1844 487h6M1236 489h4M1318 489h8M1836 489h8M1232 491h4M1326 491h6M1826 491h10M1230 493h2M1332 493h8M1816 493h10M1226 495h4M1340 495h10M1812 495h4M1222 497h4M1350 497h14M1808 497h4M1218 499h4M1364 499h14M1802 499h6M1214 501h4M1378 501h10M1794 501h8M1206 503h8M1388 503h8M1788 503h6M1202 505h4M1396 505h6M1784 505h4M1198 507h4M1402 507h8M1780 507h4M1196 509h2M1410 509h6M1774 509h6M1194 511h2M1416 511h8M1770 511h4M1190 513h4M1424 513h6M1766 513h4M1188 515h2M1430 515h4M1762 515h4M1184 517h4M1434 517h4M1758 517h4M1180 519h4M1438 519h10M1754 519h4M1176 521h4M1448 521h14M1750 521h4M1174 523h2M1462 523h14M1746 523h4M1172 525h2M1476 525h14M1742 525h4M1170 527h2M1490 527h10M1738 527h4M1166 529h4M1500 529h4M1732 529h6M1164 531h2M1504 531h4M1724 531h8M1162 533h2M1508 533h6M1718 533h6M1160 535h2M1514 535h8M1710 535h8M1158 537h2M1522 537h6M1704 537h6M1156 539h2M1528 539h4M1696 539h8M1152 541h4M1532 541h4M1690 541h6M1150 543h2M1536 543h10M1686 543h4M1148 545h2M1546 545h14M1682 545h4M1146 547h2M1560 547h14M1676 547h6M1144 549h2M1574 549h14M1668 549h8M1142 551h2M1588 551h14M1662 551h6M612 553h38M1140 553h2M1602 553h10M1654 553h8M604 555h8M650 555h10M1138 555h2M1612 555h8M1644 555h10M598 557h6M660 557h8M1136 557h2M1620 557h24M590 559h8M668 559h10M1134 559h2M580 561h10M678 561h10M1132 561h2M570 563h10M688 563h8M1128 563h4M562 565h8M696 565h6M1124 565h4M556 567h6M702 567h4M1120 567h4M548 569h8M706 569h4M1118 569h2M542 571h6M710 571h6M1114 571h4M538 573h4M716 573h8M1112 573h2M534 575h4M724 575h6M1110 575h2M528 577h6M730 577h4M1106 577h4M524 579h4M734 579h4M1104 579h2M520 581h4M738 581h6M1100 581h4M514 583h6M744 583h4M1096 583h4M510 585h4M748 585h4M1092 585h4M506 587h4M752 587h6M1090 587h2M500 589h6M758 589h8M1086 589h4M496 591h4M766 591h6M1082 591h4M492 593h4M772 593h4M1078 593h4M482 595h10M776 595h4M1076 595h2M468 597h14M780 597h6M1072 597h4M454 599h14M786 599h8M1070 599h2M440 601h14M794 601h6M1068 601h2M412 603h28M800 603h4M1064 603h4M398 605h14M804 605h4M1062 605h2M356 607h42M808 607h6M1058 607h4M346 609h10M814 609h4M1056 609h2M338 611h8M818 611h4M1054 611h2M332 613h6M822 613h6M1050 613h4M324 615h8M828 615h4M1048 615h2M314 617h10M832 617h4M1046 617h2M306 619h8M836 619h10M1044 619h2M304 621h2M846 621h10M1040 621h4M302 623h2M856 623h8M1038 623h2M300 625h2M864 625h10M1036 625h2M300 627h2M874 627h10M1034 627h2M298 629h2M884 629h8M1030 629h4M296 631h2M892 631h6M1026 631h4M294 633h2M898 633h4M1022 633h4M292 635h2M902 635h4M1018 635h4M290 637h2M906 637h6M1010 637h8M288 639h2M912 639h8M1000 639h10M284 641h4M920 641h10M986 641h14M282 643h2M930 643h14M972 643h14M280 645h2M944 645h28M278 647h2M276 649h2M274 651h2M270 653h4M268 655h2M266 657h2M264 659h2M260 661h4M258 663h2M256 665h2M252 667h4M250 669h2M246 671h4M244 673h2M242 675h2M52 677h48M238 677h4M44 679h8M100 679h8M236 679h2M38 681h6M108 681h6M232 681h4M30 683h8M114 683h4M228 683h4M24 685h6M118 685h4M224 685h4M16 687h8M122 687h6M220 687h4M12 689h4M128 689h4M216 689h4M132 691h4M212 691h4M136 693h4M206 693h6M140 695h4M198 695h8M144 697h4M192 697h6M148 699h4M184 699h8M152 701h4M178 701h6M156 703h8M170 703h8M164 705h6" fill="none" stroke="#00b0ff" stroke-width="2"/><path d="M2028 265h4M2024 267h4M2032 267h8M2022 269h2M2040 269h6M2020 271h2M2046 271h4M2016 273h4M2050 273h4M2014 275h2M2054 275h4M2012 277h2M2058 277h2M2012 279h2M2060 279h2M2010 281h2M2062 281h4M2010 283h2M2066 283h2M2008 285h2M2068 285h2M2008 287h2M2070 287h2M2006 289h2M2072 289h2M2006 291h2M2074 291h2M2004 293h2M2074 293h2M2004 295h2M2076 295h2M2002 297h2M2078 297h2M2002 299h2M2080 299h2M2000 301h2M2080 301h2M1998 303h2M2082 303h2M1998 305h2M2084 305h2M1996 307h2M2086 307h2M1994 309h2M2086 309h2M1994 311h2M2088 311h2M1992 313h2M2090 313h2M1990 315h2M2092 315h2M1988 317h2M2092 317h2M1988 319h2M2094 319h2M1986 321h2M2096 321h2M2392 321h2M1984 323h2M2096 323h2M2390 323h2M1982 325h2M2098 325h2M2388 325h2M1982 327h2M2100 327h2M2384 327h4M1980 329h2M2102 329h2M2382 329h2M1978 331h2M2104 331h4M2380 331h2M1976 333h2M2108 333h2M2378 333h2M1976 335h2M2110 335h2M2376 335h2M1974 337h2M2112 337h4M2376 337h2M1972 339h2M2116 339h4M2374 339h2M1972 341h2M2120 341h4M2372 341h2M1970 343h2M2124 343h6M2372 343h2M1970 345h2M2130 345h8M2370 345h2M1970 347h2M2138 347h18M2368 347h2M1968 349h2M2156 349h4M2366 349h2M1968 351h2M2160 351h2M2366 351h2M1968 353h2M2162 353h2M2364 353h2M1966 355h2M2164 355h4M2362 355h2M1966 357h2M2168 357h2M2360 357h2M1966 359h2M2170 359h2M2356 359h4M1964 361h2M2172 361h2M2354 361h2M1964 363h2M2174 363h2M2352 363h2M1962 365h2M2176 365h2M2350 365h2M1962 367h2M2176 367h2M2346 367h4M1962 369h2M2178 369h2M2344 369h2M1960 371h2M2180 371h2M2342 371h2M1960 373h2M2182 373h2M2338 373h4M1960 375h2M2184 375h2M2336 375h2M1958 377h2M2186 377h2M2334 377h2M1958 379h2M2188 379h4M2334 379h2M1958 381h2M2192 381h2M2332 381h2M1956 383h2M2194 383h2M2330 383h2M1956 385h2M2196 385h2M2330 385h2M1954 387h2M2198 387h2M2328 387h2M1954 389h2M2198 389h2M2326 389h2M1954 391h2M2200 391h2M2324 391h2M1952 393h2M2200 393h2M2324 393h2M1952 395h2M2202 395h2M2322 395h2M1950 397h2M2204 397h2M2320 397h2M1950 399h2M2204 399h2M2318 399h2M1948 401h2M2206 401h2M2316 401h2M1948 403h2M2206 403h2M2314 403h2M1948 405h2M2208 405h2M2312 405h2M1946 407h2M2208 407h2M2310 407h2M1946 409h2M2210 409h2M2306 409h4M1944 411h2M2212 411h2M2298 411h8M1944 413h2M2212 413h2M2294 413h4M1942 415h2M2214 415h2M2292 415h2M1940 417h2M2214 417h2M2290 417h2M1938 419h2M2216 419h2M2288 419h2M1938 421h2M2216 421h2M2288 421h2M1936 423h2M2218 423h2M2286 423h2M1934 425h2M2218 425h2M2284 425h2M1932 427h2M2220 427h2M2282 427h2M1930 429h2M2220 429h2M2280 429h2M1928 431h2M2222 431h2M2276 431h4M1928 433h2M2222 433h2M2274 433h2M1926 435h2M2224 435h8M2272 435h2M1926 437h2M2232 437h14M2268 437h4M1924 439h2M2246 439h22M1924 441h2M1922 443h2M1922 445h2M1920 447h2M1920 449h2M1918 451h2M1918 453h2M1916 455h2M1914 457h2M1914 459h2M1912 461h2M1202 463h2M1910 463h2M1198 465h4M1204 465h2M1910 465h2M1196 467h2M1206 467h2M1908 467h2M1194 469h2M1208 469h4M1906 469h2M1190 471h4M1212 471h2M1904 471h2M1188 473h2M1214 473h2M1858 473h10M1904 473h2M1186 475h2M1216 475h8M1816 475h10M1850 475h8M1868 475h14M1896 475h8M1184 477h2M1224 477h10M1812 477h4M1826 477h24M1882 477h14M1182 479h2M1234 479h8M1808 479h4M1182 481h2M1242 481h6M1804 481h4M1180 483h2M1248 483h4M1800 483h4M1178 485h2M1252 485h4M1284 485h6M1798 485h2M1176 487h2M1256 487h10M1276 487h8M1290 487h8M1796 487h2M1174 489h2M1266 489h10M1298 489h6M1792 489h4M1172 491h2M1304 491h8M1788 491h4M1172 493h2M1312 493h6M1784 493h4M1170 495h2M1318 495h8M1780 495h4M1168 497h2M1326 497h6M1776 497h4M1168 499h2M1332 499h4M1772 499h4M1166 501h2M1336 501h4M1768 501h4M1164 503h2M1340 503h6M1764 503h4M1162 505h2M1346 505h4M1762 505h2M1162 507h2M1350 507h4M1758 507h4M1160 509h2M1354 509h10M1378 509h14M1754 509h4M1158 511h2M1364 511h14M1392 511h10M1750 511h4M1156 513h2M1402 513h8M1742 513h8M1156 515h2M1410 515h6M1728 515h14M1154 517h2M1416 517h8M1718 517h10M1152 519h2M1424 519h6M1710 519h8M1150 521h2M1430 521h4M1704 521h6M1150 523h2M1434 523h4M1696 523h8M1148 525h2M1438 525h6M1692 525h4M1146 527h2M1444 527h4M1688 527h4M1144 529h2M1448 529h4M1686 529h2M1144 531h2M1452 531h6M1684 531h2M1142 533h2M1458 533h8M1476 533h14M1680 533h4M1140 535h2M1466 535h10M1490 535h10M1678 535h2M1140 537h2M1500 537h8M1674 537h4M1138 539h2M1508 539h6M1670 539h4M1138 541h2M1514 541h4M1666 541h4M1136 543h2M1518 543h4M1664 543h2M1134 545h2M1522 545h6M1660 545h4M580 547h28M1134 547h2M1528 547h8M1658 547h2M570 549h10M608 549h10M1132 549h2M1536 549h4M1656 549h2M562 551h8M618 551h8M1128 551h4M1540 551h4M1652 551h4M556 553h6M626 553h10M1124 553h4M1544 553h4M1644 553h8M552 555h4M636 555h8M1120 555h4M1548 555h4M1630 555h14M548 557h4M644 557h4M1102 557h18M1552 557h4M1602 557h28M544 559h4M648 559h2M1094 559h8M1556 559h8M1574 559h28M540 561h4M650 561h2M1088 561h6M1564 561h10M536 563h4M652 563h4M1080 563h8M532 565h4M656 565h4M1076 565h4M528 567h4M660 567h8M1072 567h4M524 569h4M668 569h6M1070 569h2M520 571h4M674 571h4M1068 571h2M514 573h6M678 573h4M1064 573h4M506 575h8M682 575h6M1062 575h2M500 577h6M688 577h8M1058 577h4M492 579h8M696 579h6M1054 579h4M486 581h6M702 581h4M1050 581h4M478 583h8M706 583h4M1048 583h2M468 585h10M710 585h18M1046 585h2M458 587h10M728 587h4M1044 587h2M454 589h4M732 589h4M1044 589h2M450 591h4M736 591h4M1042 591h2M446 593h4M740 593h4M1040 593h2M442 595h4M744 595h4M1038 595h2M342 597h10M438 597h4M748 597h4M1038 597h2M328 599h14M352 599h4M434 599h4M752 599h6M1036 599h2M318 601h10M356 601h4M432 601h2M758 601h8M1034 601h2M310 603h8M360 603h6M428 603h4M766 603h6M1032 603h2M306 605h4M366 605h4M426 605h2M772 605h8M1030 605h2M302 607h4M370 607h4M424 607h2M780 607h4M1026 607h4M298 609h4M374 609h6M420 609h4M784 609h4M1024 609h2M294 611h4M380 611h8M398 611h22M788 611h4M1022 611h2M292 613h2M388 613h10M792 613h4M1020 613h2M288 615h4M796 615h4M1018 615h2M286 617h2M800 617h4M1016 617h2M284 619h2M804 619h4M1012 619h4M280 621h4M808 621h6M1010 621h2M276 623h4M814 623h4M1008 623h2M272 625h4M818 625h4M1006 625h2M268 627h4M822 627h6M1004 627h2M258 629h10M828 629h4M1002 629h2M248 631h10M832 631h4M998 631h4M240 633h8M836 633h6M996 633h2M236 635h4M842 635h8M874 635h14M994 635h2M234 637h2M850 637h24M888 637h14M992 637h2M234 639h2M902 639h10M988 639h4M232 641h2M912 641h4M986 641h2M230 643h2M916 643h4M984 643h2M230 645h2M920 645h6M980 645h4M228 647h2M926 647h4M976 647h4M226 649h2M930 649h4M972 649h4M224 651h2M934 651h6M968 651h4M224 653h2M940 653h4M962 653h6M222 655h2M944 655h4M954 655h8M220 657h2M948 657h6M218 659h2M216 661h2M216 663h2M214 665h2M34 667h14M212 667h2M24 669h10M48 669h10M210 669h2M16 671h8M58 671h8M208 671h2M12 673h4M66 673h4M206 673h2M70 675h4M204 675h2M74 677h4M204 677h2M78 679h4M202 679h2M82 681h8M200 681h2M90 683h8M198 683h2M98 685h4M198 685h2M102 687h2M196 687h2M104 689h2M194 689h2M106 691h4M192 691h2M110 693h2M190 693h2M112 695h2M190 695h2M114 697h2M188 697h2M116 699h4M186 699h2M120 701h2M184 701h2M122 703h2M184 703h2M124 705h2M182 705h2M126 707h4M180 707h2M130 709h2M178 709h2M132 711h2M176 711h2M134 713h4M176 713h2M138 715h4M174 715h2M142 717h8M172 717h2M150 719h6M170 719h2M156 721h4M170 721h2M160 723h4M168 723h2M164 725h4" fill="none" stroke="#ffa82a" stroke-width="2"/><rect x="1988" y="219.5" width="42" height="2" fill="#d2dae8"/><rect x="166" y="742" width="42" height="2" fill="#d2dae8"/><rect x="8" y="1066.1" width="10" height="27.9" fill="#00cf7e"/><rect x="22" y="1074" width="10" height="20" fill="#00cf7e"/><rect x="36" y="1066.1" width="10" height="27.9" fill="#00cf7e"/><rect x="50" y="1062" width="10" height="32" fill="#ff3f3f"/><rect x="64" y="1074" width="10" height="20" fill="#00cf7e"/><rect x="78" y="1056.2" width="10" height="37.8" fill="#00cf7e"/><rect x="92" y="1076" width="10" height="18" fill="#00cf7e"/><rect x="106" y="1058.3" width="10" height="35.7" fill="#00cf7e"/><rect x="120" y="1054.1" width="10" height="39.9" fill="#ff3f3f"/><rect x="134" y="1064" width="10" height="30" fill="#00cf7e"/><rect x="148" y="1068.2" width="10" height="25.8" fill="#00cf7e"/><rect x="162" y="1048.2" width="10" height="45.8" fill="#00cf7e"/><rect x="176" y="876.1" width="10" height="217.9" fill="#ff3f3f"/><rect x="190" y="1042.4" width="10" height="51.6" fill="#00cf7e"/><rect x="204" y="1038.2" width="10" height="55.8" fill="#00cf7e"/><rect x="218" y="1070.2" width="10" height="23.8" fill="#00cf7e"/><rect x="232" y="1052.1" width="10" height="41.9" fill="#ff3f3f"/><rect x="246" y="1064" width="10" height="30" fill="#00cf7e"/><rect x="260" y="1072.1" width="10" height="21.9" fill="#00cf7e"/><rect x="274" y="1080" width="10" height="14" fill="#ff3f3f"/><rect x="288" y="1032" width="10" height="62" fill="#ff3f3f"/><rect x="302" y="1056.2" width="10" height="37.8" fill="#00cf7e"/><rect x="316" y="1070.2" width="10" height="23.8" fill="#00cf7e"/><rect x="330" y="1054.1" width="10" height="39.9" fill="#00cf7e"/><rect x="344" y="1072.1" width="10" height="21.9" fill="#ff3f3f"/><rect x="358" y="1046.1" width="10" height="47.9" fill="#00cf7e"/><rect x="372" y="1064" width="10" height="30" fill="#00cf7e"/><rect x="386" y="1066.1" width="10" height="27.9" fill="#ff3f3f"/><rect x="400" y="1066.1" width="10" height="27.9" fill="#ff3f3f"/><rect x="414" y="1076" width="10" height="18" fill="#ff3f3f"/><rect x="428" y="1050.2" width="10" height="43.8" fill="#ff3f3f"/><rect x="442" y="1052.1" width="10" height="41.9" fill="#00cf7e"/><rect x="456" y="1050.2" width="10" height="43.8" fill="#00cf7e"/><rect x="470" y="1040.3" width="10" height="53.7" fill="#ff3f3f"/><rect x="484" y="1068.2" width="10" height="25.8" fill="#ff3f3f"/><rect x="498" y="1024.2" width="10" height="69.8" fill="#ff3f3f"/><rect x="512" y="1040.3" width="10" height="53.7" fill="#00cf7e"/><rect x="526" y="1048.2" width="10" height="45.8" fill="#00cf7e"/><rect x="540" y="1062" width="10" height="32" fill="#00cf7e"/><rect x="554" y="1064" width="10" height="30" fill="#00cf7e"/><rect x="568" y="1070.2" width="10" height="23.8" fill="#00cf7e"/><rect x="582" y="1042" width="10" height="52" fill="#ff3f3f"/><rect x="596" y="1068.2" width="10" height="25.8" fill="#00cf7e"/><rect x="610" y="1064" width="10" height="30" fill="#00cf7e"/><rect x="624" y="1070.2" width="10" height="23.8" fill="#00cf7e"/><rect x="638" y="1082" width="10" height="12" fill="#ff3f3f"/><rect x="652" y="1050.2" width="10" height="43.8" fill="#00cf7e"/><rect x="666" y="1078.1" width="10" height="15.9" fill="#ff3f3f"/><rect x="680" y="1076" width="10" height="18" fill="#00cf7e"/><rect x="694" y="1074" width="10" height="20" fill="#00cf7e"/><rect x="708" y="1072.1" width="10" height="21.9" fill="#00cf7e"/><rect x="722" y="1078.1" width="10" height="15.9" fill="#ff3f3f"/><rect x="736" y="1068.2" width="10" height="25.8" fill="#00cf7e"/><rect x="750" y="1064" width="10" height="30" fill="#00cf7e"/><rect x="764" y="1076" width="10" height="18" fill="#00cf7e"/><rect x="778" y="1056.2" width="10" height="37.8" fill="#00cf7e"/><rect x="792" y="1042" width="10" height="52" fill="#00cf7e"/><rect x="806" y="1020.3" width="10" height="73.7" fill="#00cf7e"/><rect x="820" y="1064" width="10" height="30" fill="#00cf7e"/><rect x="834" y="1066.1" width="10" height="27.9" fill="#00cf7e"/><rect x="848" y="1062" width="10" height="32" fill="#ff3f3f"/><rect x="862" y="1066.1" width="10" height="27.9" fill="#ff3f3f"/><rect x="876" y="1062" width="10" height="32" fill="#00cf7e"/><rect x="890" y="1062" width="10" height="32" fill="#00cf7e"/><rect x="904" y="1008.3" width="10" height="85.7" fill="#00cf7e"/><rect x="918" y="1066.1" width="10" height="27.9" fill="#ff3f3f"/><rect x="932" y="1060.1" width="10" height="33.9" fill="#ff3f3f"/><rect x="946" y="1072.1" width="10" height="21.9" fill="#00cf7e"/><rect x="960" y="1062" width="10" height="32" fill="#ff3f3f"/><rect x="974" y="1062" width="10" height="32" fill="#00cf7e"/><rect x="988" y="1032" width="10" height="62" fill="#00cf7e"/><rect x="1002" y="1056.2" width="10" height="37.8" fill="#00cf7e"/><rect x="1016" y="1052.1" width="10" height="41.9" fill="#ff3f3f"/><rect x="1030" y="1048.2" width="10" height="45.8" fill="#ff3f3f"/><rect x="1044" y="1036.2" width="10" height="57.8" fill="#ff3f3f"/><rect x="1058" y="1062" width="10" height="32" fill="#00cf7e"/><rect x="1072" y="1032" width="10" height="62" fill="#00cf7e"/><rect x="1086" y="1054.1" width="10" height="39.9" fill="#00cf7e"/><rect x="1100" y="1058.3" width="10" height="35.7" fill="#ff3f3f"/><rect x="1114" y="992.2" width="10" height="101.8" fill="#ff3f3f"/><rect x="1128" y="956.2" width="10" height="137.8" fill="#ff3f3f"/><rect x="1142" y="894.1" width="10" height="199.9" fill="#ff3f3f"/><rect x="1156" y="1028" width="10" height="66" fill="#00cf7e"/><rect x="1170" y="1020.3" width="10" height="73.7" fill="#00cf7e"/><rect x="1184" y="1028" width="10" height="66" fill="#00cf7e"/><rect x="1198" y="1050.2" width="10" height="43.8" fill="#00cf7e"/><rect x="1212" y="1024.2" width="10" height="69.8" fill="#00cf7e"/><rect x="1226" y="1062" width="10" height="32" fill="#ff3f3f"/><rect x="1240" y="946.1" width="10" height="147.9" fill="#00cf7e"/><rect x="1254" y="1068.2" width="10" height="25.8" fill="#00cf7e"/><rect x="1268" y="1072.1" width="10" height="21.9" fill="#00cf7e"/><rect x="1282" y="848.2" width="10" height="245.8" fill="#00cf7e"/><rect x="1296" y="1066.1" width="10" height="27.9" fill="#00cf7e"/><rect x="1310" y="1072.1" width="10" height="21.9" fill="#00cf7e"/><rect x="1324" y="1076" width="10" height="18" fill="#ff3f3f"/><rect x="1338" y="1070.2" width="10" height="23.8" fill="#00cf7e"/><rect x="1352" y="1070.2" width="10" height="23.8" fill="#00cf7e"/><rect x="1366" y="1070.2" width="10" height="23.8" fill="#ff3f3f"/><rect x="1380" y="1066.1" width="10" height="27.9" fill="#ff3f3f"/><rect x="1394" y="1072.1" width="10" height="21.9" fill="#00cf7e"/><rect x="1408" y="1044" width="10" height="50" fill="#00cf7e"/><rect x="1422" y="1066.1" width="10" height="27.9" fill="#00cf7e"/><rect x="1436" y="1070.2" width="10" height="23.8" fill="#00cf7e"/><rect x="1450" y="1074" width="10" height="20" fill="#00cf7e"/><rect x="1464" y="1080" width="10" height="14" fill="#ff3f3f"/><rect x="1478" y="1074" width="10" height="20" fill="#ff3f3f"/><rect x="1492" y="1070.2" width="10" height="23.8" fill="#00cf7e"/><rect x="1506" y="1060.1" width="10" height="33.9" fill="#00cf7e"/><rect x="1520" y="1074" width="10" height="20" fill="#00cf7e"/><rect x="1534" y="1054.1" width="10" height="39.9" fill="#ff3f3f"/><rect x="1548" y="1058.3" width="10" height="35.7" fill="#ff3f3f"/><rect x="1562" y="1078.1" width="10" height="15.9" fill="#00cf7e"/><rect x="1576" y="1062" width="10" height="32" fill="#00cf7e"/><rect x="1590" y="1052.1" width="10" height="41.9" fill="#00cf7e"/><rect x="1604" y="1066.1" width="10" height="27.9" fill="#00cf7e"/><rect x="1618" y="1062" width="10" height="32" fill="#00cf7e"/><rect x="1632" y="1068.2" width="10" height="25.8" fill="#00cf7e"/><rect x="1646" y="1066.1" width="10" height="27.9" fill="#ff3f3f"/><rect x="1660" y="1036.2" width="10" height="57.8" fill="#ff3f3f"/><rect x="1674" y="1048.2" width="10" height="45.8" fill="#00cf7e"/><rect x="1688" y="1046.1" width="10" height="47.9" fill="#00cf7e"/><rect x="1702" y="1086.2" width="10" height="7.8" fill="#00cf7e"/><rect x="1716" y="1080" width="10" height="14" fill="#00cf7e"/><rect x="1730" y="1070.2" width="10" height="23.8" fill="#ff3f3f"/><rect x="1744" y="1074" width="10" height="20" fill="#00cf7e"/><rect x="1758" y="1056.2" width="10" height="37.8" fill="#ff3f3f"/><rect x="1772" y="1056.2" width="10" height="37.8" fill="#00cf7e"/><rect x="1786" y="1070.2" width="10" height="23.8" fill="#00cf7e"/><rect x="1800" y="1068.2" width="10" height="25.8" fill="#ff3f3f"/><rect x="1814" y="1070.2" width="10" height="23.8" fill="#ff3f3f"/><rect x="1828" y="1072.1" width="10" height="21.9" fill="#00cf7e"/><rect x="1842" y="1064" width="10" height="30" fill="#00cf7e"/><rect x="1856" y="1078.1" width="10" height="15.9" fill="#ff3f3f"/><rect x="1870" y="1074" width="10" height="20" fill="#ff3f3f"/><rect x="1884" y="1076" width="10" height="18" fill="#00cf7e"/><rect x="1898" y="1062" width="10" height="32" fill="#00cf7e"/><rect x="1912" y="944.1" width="10" height="149.9" fill="#ff3f3f"/><rect x="1926" y="1016.1" width="10" height="77.9" fill="#ff3f3f"/><rect x="1940" y="1060.1" width="10" height="33.9" fill="#00cf7e"/><rect x="1954" y="1026.3" width="10" height="67.7" fill="#ff3f3f"/><rect x="1968" y="1032" width="10" height="62" fill="#ff3f3f"/><rect x="1982" y="1054.1" width="10" height="39.9" fill="#00cf7e"/><rect x="1996" y="1032" width="10" height="62" fill="#ff3f3f"/><rect x="2010" y="1060.1" width="10" height="33.9" fill="#00cf7e"/><rect x="2024" y="1040.3" width="10" height="53.7" fill="#00cf7e"/><rect x="2038" y="1026.3" width="10" height="67.7" fill="#00cf7e"/><rect x="2052" y="1034.1" width="10" height="59.9" fill="#00cf7e"/><rect x="2066" y="1070.2" width="10" height="23.8" fill="#ff3f3f"/><rect x="2080" y="1062" width="10" height="32" fill="#00cf7e"/><rect x="2094" y="1056.2" width="10" height="37.8" fill="#00cf7e"/><rect x="2108" y="1054.1" width="10" height="39.9" fill="#00cf7e"/><rect x="2122" y="1060.1" width="10" height="33.9" fill="#00cf7e"/><rect x="2136" y="1064" width="10" height="30" fill="#00cf7e"/><rect x="2150" y="1062" width="10" height="32" fill="#ff3f3f"/><rect x="2164" y="1032" width="10" height="62" fill="#00cf7e"/><rect x="2178" y="1048.2" width="10" height="45.8" fill="#00cf7e"/><rect x="2192" y="1078.1" width="10" height="15.9" fill="#ff3f3f"/><rect x="2206" y="1042" width="10" height="52" fill="#ff3f3f"/><rect x="2220" y="1068.2" width="10" height="25.8" fill="#00cf7e"/><rect x="2234" y="1066.1" width="10" height="27.9" fill="#ff3f3f"/><rect x="2248" y="1082" width="10" height="12" fill="#00cf7e"/><rect x="2262" y="1082" width="10" height="12" fill="#00cf7e"/><rect x="2276" y="1070.2" width="10" height="23.8" fill="#00cf7e"/><rect x="2290" y="1068.2" width="10" height="25.8" fill="#00cf7e"/><rect x="2304" y="1078.1" width="10" height="15.9" fill="#00cf7e"/><rect x="2318" y="1076" width="10" height="18" fill="#ff3f3f"/><rect x="2332" y="1060.1" width="10" height="33.9" fill="#00cf7e"/><rect x="2346" y="1058.3" width="10" height="35.7" fill="#00cf7e"/><rect x="2360" y="1038.2" width="10" height="55.8" fill="#00cf7e"/><rect x="2374" y="1046.1" width="10" height="47.9" fill="#00cf7e"/><rect x="2388" y="1056.2" width="10" height="37.8" fill="#00cf7e"/><path d="M1172 979h6M1168 981h4M1178 981h4M1164 983h4M1182 983h4M1158 985h6M1186 985h4M1154 987h4M1190 987h2M1150 989h4M1190 989h2M1146 991h4M1192 991h2M1146 993h2M1194 993h2M1144 995h2M1196 995h2M1144 997h2M1196 997h2M1142 999h2M1198 999h2M1286 999h8M1142 1001h2M1200 1001h2M1286 1001h2M1294 1001h8M1140 1003h2M1200 1003h2M1284 1003h2M1302 1003h2M1140 1005h2M1202 1005h2M1284 1005h2M1302 1005h2M1138 1007h2M1204 1007h2M1282 1007h2M1304 1007h2M1138 1009h2M1204 1009h2M1282 1009h2M1304 1009h2M1136 1011h2M1206 1011h2M1282 1011h2M1306 1011h2M1136 1013h2M1206 1013h2M1280 1013h2M1308 1013h2M206 1015h32M1134 1015h2M1208 1015h2M1280 1015h2M1308 1015h2M1970 1015h4M198 1017h8M236 1017h2M1134 1017h2M1208 1017h2M1280 1017h2M1310 1017h2M1966 1017h4M1974 1017h2M192 1019h6M238 1019h2M1132 1019h2M1210 1019h2M1278 1019h2M1310 1019h2M1962 1019h4M1974 1019h2M184 1021h8M238 1021h2M1130 1021h2M1210 1021h2M1278 1021h2M1312 1021h2M1958 1021h4M1976 1021h2M180 1023h4M238 1023h2M1130 1023h2M1212 1023h2M1244 1023h2M1276 1023h2M1312 1023h2M1954 1023h4M1978 1023h2M180 1025h2M240 1025h2M1128 1025h2M1212 1025h2M1242 1025h2M1246 1025h4M1276 1025h2M1314 1025h8M1952 1025h2M1978 1025h2M178 1027h2M240 1027h2M1126 1027h2M1214 1027h2M1240 1027h2M1250 1027h4M1276 1027h2M1322 1027h22M1950 1027h2M1980 1027h2M178 1029h2M242 1029h2M1126 1029h2M1214 1029h2M1238 1029h2M1254 1029h4M1274 1029h2M1342 1029h2M1946 1029h4M1980 1029h2M176 1031h2M242 1031h2M1124 1031h2M1216 1031h4M1236 1031h2M1258 1031h4M1274 1031h2M1344 1031h2M1942 1031h4M1982 1031h2M176 1033h2M242 1033h2M1122 1033h2M1220 1033h4M1234 1033h2M1262 1033h8M1272 1033h2M1344 1033h2M1934 1033h8M1984 1033h2M176 1035h2M244 1035h2M1120 1035h2M1224 1035h4M1232 1035h2M1270 1035h4M1344 1035h2M1930 1035h4M1984 1035h2M174 1037h2M244 1037h2M1120 1037h2M1228 1037h4M1346 1037h2M1928 1037h2M1986 1037h4M174 1039h2M244 1039h2M1118 1039h2M1346 1039h2M1926 1039h2M1990 1039h8M2054 1039h4M174 1041h2M246 1041h2M1114 1041h4M1346 1041h2M1922 1041h4M1998 1041h24M2046 1041h8M2058 1041h4M172 1043h2M246 1043h2M1112 1043h2M1348 1043h2M1920 1043h2M2022 1043h24M2062 1043h4M172 1045h2M248 1045h2M510 1045h24M1046 1045h6M1110 1045h2M1348 1045h2M1918 1045h2M2066 1045h4M170 1047h2M248 1047h2M500 1047h10M534 1047h8M552 1047h8M1042 1047h4M1052 1047h4M1074 1047h24M1106 1047h4M1348 1047h2M1916 1047h2M2070 1047h22M170 1049h2M248 1049h2M496 1049h4M542 1049h10M560 1049h4M832 1049h14M1038 1049h4M1056 1049h4M1066 1049h8M1098 1049h8M1350 1049h2M1914 1049h2M2092 1049h10M170 1051h2M250 1051h2M492 1051h4M564 1051h2M810 1051h22M846 1051h10M930 1051h14M1028 1051h10M1060 1051h6M1350 1051h2M1914 1051h2M2102 1051h4M2390 1051h4M168 1053h2M250 1053h4M472 1053h20M566 1053h2M806 1053h4M856 1053h8M908 1053h22M944 1053h22M1018 1053h10M1350 1053h2M1690 1053h6M1912 1053h2M2106 1053h4M2176 1053h10M2208 1053h18M2382 1053h8M168 1055h2M254 1055h4M468 1055h4M568 1055h4M804 1055h2M864 1055h4M904 1055h4M966 1055h2M1010 1055h8M1350 1055h2M1682 1055h8M1696 1055h8M1912 1055h2M2110 1055h6M2166 1055h10M2186 1055h8M2200 1055h8M2226 1055h4M2378 1055h4M166 1057h2M258 1057h4M342 1057h14M464 1057h4M572 1057h18M802 1057h2M868 1057h4M902 1057h2M968 1057h2M992 1057h18M1352 1057h2M1672 1057h10M1704 1057h10M1910 1057h2M2116 1057h4M2158 1057h8M2194 1057h6M2230 1057h4M2374 1057h4M164 1059h4M262 1059h4M332 1059h10M356 1059h14M458 1059h6M590 1059h8M798 1059h4M872 1059h2M900 1059h2M970 1059h4M988 1059h4M1352 1059h2M1662 1059h10M1714 1059h8M1910 1059h2M2120 1059h4M2134 1059h24M2234 1059h4M2370 1059h4M132 1061h10M160 1061h4M266 1061h4M290 1061h24M324 1061h8M370 1061h28M450 1061h8M598 1061h24M796 1061h2M874 1061h2M896 1061h4M974 1061h2M984 1061h4M1352 1061h2M1592 1061h10M1654 1061h8M1722 1061h4M1908 1061h2M2124 1061h10M2238 1061h4M2366 1061h4M118 1063h14M142 1063h8M156 1063h4M270 1063h4M286 1063h4M314 1063h10M398 1063h28M440 1063h10M622 1063h14M792 1063h4M876 1063h4M888 1063h8M976 1063h2M980 1063h4M1354 1063h2M1420 1063h28M1550 1063h10M1584 1063h8M1602 1063h14M1630 1063h24M1726 1063h4M1906 1063h2M2242 1063h4M2362 1063h4M12 1065h8M104 1065h14M150 1065h6M274 1065h4M282 1065h4M426 1065h14M636 1065h14M788 1065h4M880 1065h8M978 1065h2M1354 1065h2M1410 1065h10M1448 1065h14M1542 1065h8M1560 1065h24M1616 1065h14M1730 1065h4M1784 1065h42M1906 1065h2M2246 1065h4M2358 1065h4M20 1067h42M76 1067h28M278 1067h4M650 1067h14M784 1067h4M1354 1067h2M1402 1067h8M1462 1067h10M1536 1067h6M1734 1067h4M1774 1067h10M1826 1067h14M1904 1067h2M2250 1067h10M2354 1067h4M62 1069h14M664 1069h14M776 1069h8M1356 1069h2M1392 1069h10M1472 1069h4M1528 1069h8M1738 1069h8M1770 1069h4M1840 1069h14M1904 1069h2M2260 1069h10M2344 1069h10M678 1071h14M706 1071h10M748 1071h28M1356 1071h36M1476 1071h4M1504 1071h24M1746 1071h10M1766 1071h4M1854 1071h28M1896 1071h8M2270 1071h8M2334 1071h10M692 1073h14M716 1073h8M734 1073h14M1480 1073h24M1756 1073h10M1882 1073h14M2278 1073h20M2326 1073h8M724 1075h10M2298 1075h8M2316 1075h10M2306 1077h10" fill="none" stroke="#ffa82a" stroke-width="2"/><path d="M1244 1001h4M1240 1003h4M1248 1003h4M1238 1005h2M1252 1005h4M1236 1007h2M1256 1007h4M1232 1009h4M1260 1009h2M1196 1011h36M1262 1011h2M1172 1013h24M1264 1013h4M1164 1015h8M1268 1015h2M1284 1015h6M1154 1017h10M1270 1017h2M1276 1017h8M1290 1017h8M1146 1019h8M1272 1019h4M1298 1019h6M1144 1021h2M1304 1021h8M1142 1023h2M1312 1023h6M1140 1025h2M1318 1025h4M1140 1027h2M1322 1027h4M1138 1029h2M1326 1029h10M2040 1029h4M1136 1031h2M1336 1031h10M2032 1031h8M2044 1031h4M1134 1033h2M1346 1033h8M2026 1033h6M2048 1033h2M1132 1035h2M1354 1035h18M2018 1035h8M2050 1035h2M230 1037h28M290 1037h10M1128 1037h4M1372 1037h2M1998 1037h20M2052 1037h4M202 1039h28M258 1039h14M282 1039h8M300 1039h8M1124 1039h4M1374 1039h2M1994 1039h4M2056 1039h4M188 1041h14M272 1041h10M308 1041h2M1120 1041h4M1376 1041h4M1990 1041h4M2060 1041h8M180 1043h8M310 1043h2M1116 1043h4M1380 1043h2M1970 1043h20M2068 1043h20M178 1045h2M310 1045h2M1112 1045h4M1382 1045h2M1410 1045h4M1962 1045h8M2088 1045h8M178 1047h2M312 1047h2M1108 1047h4M1384 1047h8M1402 1047h8M1414 1047h2M1956 1047h6M2096 1047h10M176 1049h2M314 1049h2M552 1049h14M1084 1049h24M1392 1049h10M1414 1049h2M1948 1049h8M2106 1049h24M174 1051h2M316 1051h2M524 1051h28M566 1051h28M906 1051h24M1028 1051h10M1074 1051h10M1416 1051h2M1938 1051h10M2130 1051h8M174 1053h2M316 1053h2M510 1053h14M594 1053h14M902 1053h4M930 1053h10M1014 1053h14M1038 1053h8M1066 1053h8M1418 1053h2M1928 1053h10M2138 1053h38M172 1055h2M318 1055h2M496 1055h14M608 1055h24M898 1055h4M940 1055h4M990 1055h24M1046 1055h20M1418 1055h2M1920 1055h8M2176 1055h10M2208 1055h10M170 1057h2M320 1057h8M482 1057h14M632 1057h4M874 1057h24M944 1057h4M982 1057h8M1420 1057h2M1916 1057h4M2186 1057h8M2200 1057h8M2218 1057h24M168 1059h2M328 1059h10M360 1059h10M454 1059h28M636 1059h4M846 1059h28M948 1059h34M1420 1059h2M1672 1059h42M1914 1059h2M2194 1059h6M2242 1059h8M168 1061h2M338 1061h8M352 1061h8M370 1061h56M440 1061h14M640 1061h10M818 1061h28M1422 1061h2M1662 1061h10M1714 1061h14M1770 1061h14M1912 1061h2M2250 1061h10M160 1063h8M346 1063h6M426 1063h14M650 1063h14M808 1063h10M1424 1063h2M1616 1063h28M1654 1063h8M1728 1063h42M1784 1063h14M1908 1063h4M2260 1063h38M2386 1063h8M76 1065h14M118 1065h42M664 1065h14M804 1065h4M1424 1065h2M1602 1065h14M1644 1065h10M1798 1065h14M1906 1065h2M2298 1065h4M2372 1065h14M12 1067h64M90 1067h28M678 1067h38M800 1067h4M1426 1067h36M1504 1067h14M1532 1067h14M1588 1067h14M1812 1067h10M1854 1067h14M1904 1067h2M2302 1067h4M2362 1067h10M716 1069h8M776 1069h24M1462 1069h42M1518 1069h14M1546 1069h42M1822 1069h8M1840 1069h14M1868 1069h36M2306 1069h10M2330 1069h14M2354 1069h8M724 1071h52M1830 1071h10M2316 1071h14M2344 1071h10" fill="none" stroke="#00b0ff" stroke-width="2"/><rect x="8" y="1258" width="2442" height="2" fill="#465063"/><rect x="8" y="1235.9" width="8" height="22.1" fill="#ff3f3f"/><rect x="22" y="1239.8" width="8" height="18.2" fill="#ff3f3f"/><rect x="36" y="1239.8" width="8" height="18.2" fill="#ff3f3f"/><rect x="50" y="1239.8" width="8" height="18.2" fill="#ff3f3f"/><rect x="64" y="1241.9" width="8" height="16.1" fill="#ff3f3f"/><rect x="78" y="1249.7" width="8" height="8.3" fill="#ff3f3f"/><rect x="92" y="1253.8" width="8" height="4.2" fill="#ff3f3f"/><rect x="106" y="1260" width="10" height="1.5" fill="#00cf7e"/><rect x="120" y="1260" width="10" height="7.7" fill="#00cf7e"/><rect x="134" y="1260" width="10" height="11.8" fill="#00cf7e"/><rect x="148" y="1260" width="10" height="11.8" fill="#00cf7e"/><rect x="162" y="1260" width="10" height="13.9" fill="#00cf7e"/><rect x="176" y="1247.8" width="8" height="10.2" fill="#ff3f3f"/><rect x="190" y="1231.7" width="8" height="26.3" fill="#ff3f3f"/><rect x="204" y="1225.7" width="8" height="32.3" fill="#ff3f3f"/><rect x="218" y="1223.9" width="8" height="34.1" fill="#ff3f3f"/><rect x="232" y="1219.8" width="8" height="38.2" fill="#ff3f3f"/><rect x="246" y="1217.7" width="8" height="40.3" fill="#ff3f3f"/><rect x="260" y="1217.7" width="8" height="40.3" fill="#ff3f3f"/><rect x="274" y="1219.8" width="8" height="38.2" fill="#ff3f3f"/><rect x="288" y="1217.7" width="8" height="40.3" fill="#ff3f3f"/><rect x="302" y="1217.7" width="8" height="40.3" fill="#ff3f3f"/><rect x="316" y="1223.9" width="8" height="34.1" fill="#ff3f3f"/><rect x="330" y="1231.7" width="8" height="26.3" fill="#ff3f3f"/><rect x="344" y="1235.9" width="8" height="22.1" fill="#ff3f3f"/><rect x="358" y="1245.8" width="8" height="12.2" fill="#ff3f3f"/><rect x="372" y="1251.8" width="8" height="6.2" fill="#ff3f3f"/><rect x="386" y="1255.9" width="8" height="2.1" fill="#ff3f3f"/><rect x="400" y="1255.9" width="8" height="2.1" fill="#ff3f3f"/><rect x="414" y="1260" width="10" height="1.5" fill="#00cf7e"/><rect x="428" y="1253.8" width="8" height="4.2" fill="#ff3f3f"/><rect x="442" y="1249.7" width="8" height="8.3" fill="#ff3f3f"/><rect x="456" y="1251.8" width="8" height="6.2" fill="#ff3f3f"/><rect x="470" y="1255.9" width="8" height="2.1" fill="#ff3f3f"/><rect x="484" y="1255.9" width="8" height="2.1" fill="#ff3f3f"/><rect x="498" y="1253.8" width="8" height="4.2" fill="#ff3f3f"/><rect x="512" y="1249.7" width="8" height="8.3" fill="#ff3f3f"/><rect x="526" y="1247.8" width="8" height="10.2" fill="#ff3f3f"/><rect x="540" y="1247.8" width="8" height="10.2" fill="#ff3f3f"/><rect x="554" y="1249.7" width="8" height="8.3" fill="#ff3f3f"/><rect x="568" y="1251.8" width="8" height="6.2" fill="#ff3f3f"/><rect x="582" y="1251.8" width="8" height="6.2" fill="#ff3f3f"/><rect x="596" y="1253.8" width="8" height="4.2" fill="#ff3f3f"/><rect x="610" y="1260" width="10" height="1.5" fill="#00cf7e"/><rect x="624" y="1260" width="10" height="9.7" fill="#00cf7e"/><rect x="638" y="1260" width="10" height="11.8" fill="#00cf7e"/><rect x="652" y="1260" width="10" height="17.6" fill="#00cf7e"/><rect x="666" y="1260" width="10" height="21.7" fill="#00cf7e"/><rect x="680" y="1260" width="10" height="23.8" fill="#00cf7e"/><rect x="694" y="1260" width="10" height="25.8" fill="#00cf7e"/><rect x="708" y="1260" width="10" height="27.9" fill="#00cf7e"/><rect x="722" y="1260" width="10" height="25.8" fill="#00cf7e"/><rect x="736" y="1260" width="10" height="30" fill="#00cf7e"/><rect x="750" y="1260" width="10" height="31.6" fill="#00cf7e"/><rect x="764" y="1260" width="10" height="30" fill="#00cf7e"/><rect x="778" y="1260" width="10" height="30" fill="#00cf7e"/><rect x="792" y="1260" width="10" height="30" fill="#00cf7e"/><rect x="806" y="1260" width="10" height="31.6" fill="#00cf7e"/><rect x="820" y="1260" width="10" height="31.6" fill="#00cf7e"/><rect x="834" y="1260" width="10" height="31.6" fill="#00cf7e"/><rect x="848" y="1260" width="10" height="23.8" fill="#00cf7e"/><rect x="862" y="1260" width="10" height="19.7" fill="#00cf7e"/><rect x="876" y="1260" width="10" height="15.5" fill="#00cf7e"/><rect x="890" y="1260" width="10" height="15.5" fill="#00cf7e"/><rect x="904" y="1260" width="10" height="17.6" fill="#00cf7e"/><rect x="918" y="1260" width="10" height="15.5" fill="#00cf7e"/><rect x="932" y="1260" width="10" height="15.5" fill="#00cf7e"/><rect x="946" y="1260" width="10" height="13.5" fill="#00cf7e"/><rect x="960" y="1260" width="10" height="5.6" fill="#00cf7e"/><rect x="974" y="1260" width="10" height="1.5" fill="#00cf7e"/><rect x="988" y="1245.8" width="8" height="12.2" fill="#ff3f3f"/><rect x="1002" y="1239.8" width="8" height="18.2" fill="#ff3f3f"/><rect x="1016" y="1233.8" width="8" height="24.2" fill="#ff3f3f"/><rect x="1030" y="1225.7" width="8" height="32.3" fill="#ff3f3f"/><rect x="1044" y="1217.7" width="8" height="40.3" fill="#ff3f3f"/><rect x="1058" y="1215.8" width="8" height="42.2" fill="#ff3f3f"/><rect x="1072" y="1217.9" width="8" height="40.1" fill="#ff3f3f"/><rect x="1086" y="1221.8" width="8" height="36.2" fill="#ff3f3f"/><rect x="1100" y="1225.7" width="8" height="32.3" fill="#ff3f3f"/><rect x="1114" y="1225.7" width="8" height="32.3" fill="#ff3f3f"/><rect x="1128" y="1223.9" width="8" height="34.1" fill="#ff3f3f"/><rect x="1142" y="1205.7" width="8" height="52.3" fill="#ff3f3f"/><rect x="1156" y="1205.7" width="8" height="52.3" fill="#ff3f3f"/><rect x="1170" y="1203.9" width="8" height="54.1" fill="#ff3f3f"/><rect x="1184" y="1207.8" width="8" height="50.2" fill="#ff3f3f"/><rect x="1198" y="1215.8" width="8" height="42.2" fill="#ff3f3f"/><rect x="1212" y="1231.7" width="8" height="26.3" fill="#ff3f3f"/><rect x="1226" y="1239.8" width="8" height="18.2" fill="#ff3f3f"/><rect x="1240" y="1245.8" width="8" height="12.2" fill="#ff3f3f"/><rect x="1254" y="1253.8" width="8" height="4.2" fill="#ff3f3f"/><rect x="1268" y="1260" width="10" height="1.7" fill="#00cf7e"/><rect x="1282" y="1260" width="10" height="5.8" fill="#00cf7e"/><rect x="1296" y="1260" width="10" height="11.6" fill="#00cf7e"/><rect x="1310" y="1260" width="10" height="17.8" fill="#00cf7e"/><rect x="1324" y="1260" width="10" height="21.7" fill="#00cf7e"/><rect x="1338" y="1260" width="10" height="25.8" fill="#00cf7e"/><rect x="1352" y="1260" width="10" height="29.8" fill="#00cf7e"/><rect x="1366" y="1260" width="10" height="27.7" fill="#00cf7e"/><rect x="1380" y="1260" width="10" height="25.8" fill="#00cf7e"/><rect x="1394" y="1260" width="10" height="25.8" fill="#00cf7e"/><rect x="1408" y="1260" width="10" height="29.8" fill="#00cf7e"/><rect x="1422" y="1260" width="10" height="31.8" fill="#00cf7e"/><rect x="1436" y="1260" width="10" height="33.9" fill="#00cf7e"/><rect x="1450" y="1260" width="10" height="29.8" fill="#00cf7e"/><rect x="1464" y="1260" width="10" height="27.7" fill="#00cf7e"/><rect x="1478" y="1260" width="10" height="23.8" fill="#00cf7e"/><rect x="1492" y="1260" width="10" height="23.8" fill="#00cf7e"/><rect x="1506" y="1260" width="10" height="27.7" fill="#00cf7e"/><rect x="1520" y="1260" width="10" height="27.7" fill="#00cf7e"/><rect x="1534" y="1260" width="10" height="25.8" fill="#00cf7e"/><rect x="1548" y="1260" width="10" height="25.8" fill="#00cf7e"/><rect x="1562" y="1260" width="10" height="23.8" fill="#00cf7e"/><rect x="1576" y="1260" width="10" height="15.9" fill="#00cf7e"/><rect x="1590" y="1260" width="10" height="15.9" fill="#00cf7e"/><rect x="1604" y="1260" width="10" height="11.8" fill="#00cf7e"/><rect x="1618" y="1260" width="10" height="9.7" fill="#00cf7e"/><rect x="1632" y="1260" width="10" height="5.8" fill="#00cf7e"/><rect x="1646" y="1260" width="10" height="1.7" fill="#00cf7e"/><rect x="1660" y="1247.8" width="8" height="10.2" fill="#ff3f3f"/><rect x="1674" y="1241.9" width="8" height="16.1" fill="#ff3f3f"/><rect x="1688" y="1240" width="8" height="18" fill="#ff3f3f"/><rect x="1702" y="1241.9" width="8" height="16.1" fill="#ff3f3f"/><rect x="1716" y="1240" width="8" height="18" fill="#ff3f3f"/><rect x="1730" y="1240" width="8" height="18" fill="#ff3f3f"/><rect x="1744" y="1237.9" width="8" height="20.1" fill="#ff3f3f"/><rect x="1758" y="1233.8" width="8" height="24.2" fill="#ff3f3f"/><rect x="1772" y="1233.8" width="8" height="24.2" fill="#ff3f3f"/><rect x="1786" y="1235.9" width="8" height="22.1" fill="#ff3f3f"/><rect x="1800" y="1231.9" width="8" height="26.1" fill="#ff3f3f"/><rect x="1814" y="1233.8" width="8" height="24.2" fill="#ff3f3f"/><rect x="1828" y="1241.9" width="8" height="16.1" fill="#ff3f3f"/><rect x="1842" y="1245.8" width="8" height="12.2" fill="#ff3f3f"/><rect x="1856" y="1245.8" width="8" height="12.2" fill="#ff3f3f"/><rect x="1870" y="1247.8" width="8" height="10.2" fill="#ff3f3f"/><rect x="1884" y="1251.8" width="8" height="6.2" fill="#ff3f3f"/><rect x="1898" y="1253.8" width="8" height="4.2" fill="#ff3f3f"/><rect x="1912" y="1235.9" width="8" height="22.1" fill="#ff3f3f"/><rect x="1926" y="1217.9" width="8" height="40.1" fill="#ff3f3f"/><rect x="1940" y="1217.9" width="8" height="40.1" fill="#ff3f3f"/><rect x="1954" y="1201.8" width="8" height="56.2" fill="#ff3f3f"/><rect x="1968" y="1187.7" width="8" height="70.3" fill="#ff3f3f"/><rect x="1982" y="1189.8" width="8" height="68.2" fill="#ff3f3f"/><rect x="1996" y="1187" width="8" height="71" fill="#ff3f3f"/><rect x="2010" y="1187.7" width="8" height="70.3" fill="#ff3f3f"/><rect x="2024" y="1195.8" width="8" height="62.2" fill="#ff3f3f"/><rect x="2038" y="1211.9" width="8" height="46.1" fill="#ff3f3f"/><rect x="2052" y="1237.9" width="8" height="20.1" fill="#ff3f3f"/><rect x="2066" y="1253.8" width="8" height="4.2" fill="#ff3f3f"/><rect x="2080" y="1260" width="10" height="11.8" fill="#00cf7e"/><rect x="2094" y="1260" width="10" height="27.9" fill="#00cf7e"/><rect x="2108" y="1260" width="10" height="33.9" fill="#00cf7e"/><rect x="2122" y="1260" width="10" height="44" fill="#00cf7e"/><rect x="2136" y="1260" width="10" height="42" fill="#00cf7e"/><rect x="2150" y="1260" width="10" height="39.9" fill="#00cf7e"/><rect x="2164" y="1260" width="10" height="55.8" fill="#00cf7e"/><rect x="2178" y="1260" width="10" height="67.8" fill="#00cf7e"/><rect x="2192" y="1260" width="10" height="71.9" fill="#00cf7e"/><rect x="2206" y="1260" width="10" height="80" fill="#00cf7e"/><rect x="2220" y="1260" width="10" height="82" fill="#00cf7e"/><rect x="2234" y="1260" width="10" height="71.9" fill="#00cf7e"/><rect x="2248" y="1260" width="10" height="64.1" fill="#00cf7e"/><rect x="2262" y="1260" width="10" height="53.7" fill="#00cf7e"/><rect x="2276" y="1260" width="10" height="39.9" fill="#00cf7e"/><rect x="2290" y="1260" width="10" height="25.8" fill="#00cf7e"/><rect x="2304" y="1260" width="10" height="15.9" fill="#00cf7e"/><rect x="2318" y="1260" width="10" height="1.7" fill="#00cf7e"/><rect x="2332" y="1245.8" width="8" height="12.2" fill="#ff3f3f"/><rect x="2346" y="1241.9" width="8" height="16.1" fill="#ff3f3f"/><rect x="2360" y="1231.9" width="8" height="26.1" fill="#ff3f3f"/><rect x="2374" y="1221.8" width="8" height="36.2" fill="#ff3f3f"/><rect x="2388" y="1219.8" width="8" height="38.2" fill="#ff3f3f"/><path d="M2026 1139h10M2018 1141h8M2036 1141h8M2014 1143h4M2044 1143h4M2010 1145h4M2048 1145h2M2006 1147h4M2050 1147h2M2002 1149h4M2052 1149h4M2000 1151h2M2056 1151h4M1998 1153h2M2060 1153h4M1996 1155h2M2064 1155h4M1992 1157h4M2068 1157h4M1990 1159h2M2072 1159h2M1988 1161h2M2074 1161h2M1986 1163h2M2076 1163h4M1982 1165h4M2080 1165h2M1978 1167h4M2082 1167h2M1974 1169h4M2084 1169h2M1972 1171h2M2086 1171h4M1970 1173h2M2090 1173h2M1968 1175h2M2092 1175h2M1966 1177h2M2094 1177h4M1964 1179h2M2098 1179h2M1962 1181h2M2100 1181h4M1960 1183h2M2104 1183h4M1958 1185h2M2108 1185h4M1956 1187h2M2112 1187h2M1954 1189h2M2114 1189h4M1186 1191h20M1952 1191h2M2118 1191h2M1178 1193h8M1206 1193h8M1952 1193h2M2120 1193h2M1172 1195h6M1214 1195h10M1950 1195h2M2122 1195h4M1168 1197h4M1224 1197h24M1948 1197h2M2126 1197h4M1164 1199h4M1248 1199h8M1946 1199h2M2130 1199h8M1160 1201h4M1256 1201h10M1942 1201h4M2138 1201h6M1156 1203h4M1266 1203h10M1934 1203h8M2144 1203h8M1154 1205h2M1276 1205h8M1930 1205h4M2152 1205h4M1152 1207h2M1284 1207h6M1928 1207h2M2156 1207h2M1148 1209h4M1290 1209h8M1926 1209h2M2158 1209h2M1146 1211h2M1298 1211h6M1924 1211h2M2160 1211h2M1144 1213h2M1304 1213h4M1924 1213h2M2162 1213h2M1142 1215h2M1308 1215h4M1922 1215h2M2162 1215h2M538 1217h66M1140 1217h2M1312 1217h6M1920 1217h2M2164 1217h2M524 1219h14M604 1219h8M1138 1219h2M1318 1219h8M1918 1219h2M2166 1219h2M510 1221h14M612 1221h6M1136 1221h2M1326 1221h6M1916 1221h2M2168 1221h2M314 1223h38M496 1223h14M618 1223h8M1134 1223h2M1332 1223h8M1914 1223h2M2170 1223h2M304 1225h10M352 1225h8M440 1225h56M626 1225h6M1130 1225h4M1340 1225h6M1912 1225h2M2172 1225h2M2392 1225h2M296 1227h8M360 1227h10M426 1227h14M632 1227h8M1126 1227h4M1346 1227h8M1908 1227h4M2174 1227h2M2388 1227h4M290 1229h6M370 1229h56M640 1229h6M1122 1229h4M1354 1229h6M1906 1229h2M2176 1229h2M2384 1229h4M286 1231h4M646 1231h8M1116 1231h6M1360 1231h8M1812 1231h84M1904 1231h2M2178 1231h2M2380 1231h4M282 1233h4M654 1233h6M1108 1233h8M1368 1233h6M1802 1233h10M1896 1233h8M2180 1233h2M2378 1233h2M276 1235h6M660 1235h8M1098 1235h10M1374 1235h8M1794 1235h8M2182 1235h2M2376 1235h2M268 1237h8M668 1237h6M1084 1237h14M1382 1237h10M1788 1237h6M2184 1237h2M2374 1237h2M262 1239h6M674 1239h8M1076 1239h8M1392 1239h10M1780 1239h8M2186 1239h2M2370 1239h4M258 1241h4M682 1241h6M1072 1241h4M1402 1241h4M1770 1241h10M2188 1241h4M2368 1241h2M254 1243h4M688 1243h8M1068 1243h4M1406 1243h4M1760 1243h10M2192 1243h2M2366 1243h2M248 1245h6M696 1245h6M1064 1245h4M1410 1245h6M1756 1245h4M2194 1245h2M2362 1245h4M240 1247h8M702 1247h8M1060 1247h4M1416 1247h8M1752 1247h4M2196 1247h2M2358 1247h4M236 1249h4M710 1249h6M1056 1249h4M1424 1249h6M1746 1249h6M2198 1249h2M2354 1249h4M232 1251h4M716 1251h8M1052 1251h4M1430 1251h4M1738 1251h8M2200 1251h2M2348 1251h6M228 1253h4M724 1253h6M1046 1253h6M1434 1253h4M1728 1253h10M2202 1253h4M2340 1253h8M224 1255h4M730 1255h4M1042 1255h4M1438 1255h10M1714 1255h14M2206 1255h2M2336 1255h4M220 1257h4M734 1257h4M1038 1257h4M1448 1257h14M1700 1257h14M2208 1257h2M2332 1257h4M216 1259h4M738 1259h6M1034 1259h4M1462 1259h24M1690 1259h10M2210 1259h2M2328 1259h4M212 1261h4M744 1261h8M1030 1261h4M1486 1261h8M1682 1261h8M2212 1261h2M2324 1261h4M206 1263h6M752 1263h10M1026 1263h4M1494 1263h6M1676 1263h6M2214 1263h2M2322 1263h2M202 1265h4M762 1265h10M1022 1265h4M1500 1265h8M1668 1265h8M2216 1265h4M2318 1265h4M198 1267h4M772 1267h8M1018 1267h4M1508 1267h6M1662 1267h6M2220 1267h2M2314 1267h4M194 1269h4M780 1269h6M1014 1269h4M1514 1269h8M1658 1269h4M2222 1269h2M2310 1269h4M192 1271h2M786 1271h8M1010 1271h4M1522 1271h10M1654 1271h4M2224 1271h4M2302 1271h8M190 1273h2M794 1273h6M1004 1273h6M1532 1273h14M1648 1273h6M2228 1273h8M2292 1273h10M186 1275h4M800 1275h8M1000 1275h4M1546 1275h14M1640 1275h8M2236 1275h10M2284 1275h8M48 1277h28M184 1277h2M808 1277h6M996 1277h4M1560 1277h80M2246 1277h14M2274 1277h10M34 1279h14M76 1279h14M182 1279h2M814 1279h8M990 1279h6M2260 1279h14M20 1281h14M90 1281h10M180 1281h2M822 1281h6M986 1281h4M12 1283h8M100 1283h8M178 1283h2M828 1283h8M982 1283h4M108 1285h10M176 1285h2M836 1285h52M976 1285h6M118 1287h10M172 1287h4M888 1287h10M968 1287h8M128 1289h8M170 1289h2M898 1289h8M962 1289h6M136 1291h10M168 1291h2M906 1291h24M954 1291h8M146 1293h22M930 1293h24" fill="none" stroke="#ffa82a" stroke-width="2"/><path d="M2054 1161h24M2046 1163h8M2078 1163h14M2040 1165h6M2092 1165h10M2036 1167h4M2102 1167h4M2032 1169h4M2106 1169h4M2028 1171h4M2110 1171h10M2024 1173h4M2120 1173h10M2020 1175h4M2130 1175h4M2016 1177h4M2134 1177h4M2014 1179h2M2138 1179h6M2010 1181h4M2144 1181h4M2006 1183h4M2148 1183h4M2002 1185h4M2152 1185h4M2000 1187h2M2156 1187h4M1996 1189h4M2160 1189h4M1994 1191h2M2164 1191h4M1992 1193h2M2168 1193h2M1988 1195h4M2170 1195h4M1986 1197h2M2174 1197h4M1982 1199h4M2178 1199h4M1266 1201h14M1978 1201h4M2182 1201h2M1252 1203h14M1280 1203h14M1974 1203h4M2184 1203h4M1238 1205h14M1294 1205h14M1972 1205h2M2188 1205h2M1224 1207h14M1308 1207h14M1968 1207h4M2190 1207h2M1214 1209h10M1322 1209h14M1966 1209h2M2192 1209h4M1206 1211h8M1336 1211h10M1964 1211h2M2196 1211h2M1200 1213h6M1346 1213h8M1960 1213h4M2198 1213h4M1192 1215h8M1354 1215h6M1956 1215h4M2202 1215h4M1186 1217h6M1360 1217h8M1952 1217h4M2206 1217h4M594 1219h42M1182 1219h4M1368 1219h6M1948 1219h4M2210 1219h2M552 1221h42M636 1221h14M1178 1221h4M1374 1221h8M1942 1221h6M2212 1221h4M538 1223h14M650 1223h14M1172 1223h6M1382 1223h6M1934 1223h8M2216 1223h2M510 1225h28M664 1225h10M1168 1225h4M1388 1225h8M1930 1225h4M2218 1225h2M468 1227h42M674 1227h8M1164 1227h4M1396 1227h10M1926 1227h4M2220 1227h4M412 1229h56M682 1229h10M1160 1229h4M1406 1229h10M1922 1229h4M2224 1229h2M370 1231h42M692 1231h10M1156 1231h4M1416 1231h8M1918 1231h4M2226 1231h4M356 1233h14M702 1233h8M1152 1233h4M1424 1233h6M1910 1233h8M2230 1233h2M342 1235h14M710 1235h6M1148 1235h4M1430 1235h8M1868 1235h42M2232 1235h2M332 1237h10M716 1237h8M1144 1237h4M1438 1237h6M1840 1237h28M2234 1237h4M324 1239h8M724 1239h6M1140 1239h4M1444 1239h8M1830 1239h10M2238 1239h4M318 1241h6M730 1241h8M1136 1241h4M1452 1241h6M1822 1241h8M2242 1241h4M310 1243h8M738 1243h10M1130 1243h6M1458 1243h8M1816 1243h6M2246 1243h4M304 1245h6M748 1245h10M1122 1245h8M1466 1245h10M1808 1245h8M2250 1245h6M2390 1245h4M296 1247h8M758 1247h4M1116 1247h6M1476 1247h10M1798 1247h10M2256 1247h4M2386 1247h4M290 1249h6M762 1249h4M1108 1249h8M1486 1249h8M1788 1249h10M2260 1249h4M2382 1249h4M286 1251h4M766 1251h10M1102 1251h6M1494 1251h10M1780 1251h8M2264 1251h6M2378 1251h4M282 1253h4M776 1253h10M1098 1253h4M1504 1253h10M1770 1253h10M2270 1253h4M2374 1253h4M276 1255h6M786 1255h8M1094 1255h4M1514 1255h8M1760 1255h10M2274 1255h4M2370 1255h4M272 1257h4M794 1257h6M1088 1257h6M1522 1257h10M1752 1257h8M2278 1257h6M2366 1257h4M268 1259h4M800 1259h8M1080 1259h8M1532 1259h14M1746 1259h6M2284 1259h8M2358 1259h8M262 1261h6M808 1261h6M1076 1261h4M1546 1261h10M1738 1261h8M2292 1261h24M2330 1261h28M254 1263h8M814 1263h8M1072 1263h4M1556 1263h8M1728 1263h10M2316 1263h14M248 1265h6M822 1265h6M1068 1265h4M1564 1265h6M1714 1265h14M240 1267h8M828 1267h8M1064 1267h4M1570 1267h8M1700 1267h14M234 1269h6M836 1269h6M1060 1269h4M1578 1269h24M1686 1269h14M226 1271h8M842 1271h8M1052 1271h8M1602 1271h28M1672 1271h14M220 1273h6M850 1273h10M1042 1273h10M1630 1273h42M216 1275h4M860 1275h14M1032 1275h10M212 1277h4M874 1277h14M1028 1277h4M206 1279h6M888 1279h14M1024 1279h4M198 1281h8M902 1281h14M1014 1281h10M76 1283h56M192 1283h6M916 1283h14M1004 1283h10M62 1285h14M132 1285h42M184 1285h8M930 1285h28M972 1285h14M996 1285h8M48 1287h14M174 1287h10M958 1287h14M986 1287h10M34 1289h14M24 1291h10M16 1293h8M12 1295h4" fill="none" stroke="#00b0ff" stroke-width="2"/></svg><svg style="position:absolute;left:1300px;top:14px" width="44" height="36" viewBox="0 0 44 36">
<path d="M2 24 C2 16 9 11.5 16 11 L14 3.5 L20 8 L22.8 2 L26.5 8.5 L32.5 4.4 L32 10.5 L41.7 7.8 L36.5 14.5 C40 18 41 24 37 28.5 C32 33.5 22 35 13 33.5 C6 32 2 29 2 24 Z M7.8 23.5 C7.8 27 12 29 19 28.7 C27 28.4 34.5 25 34.5 20.5 C34.5 17 30 15.4 23 15.6 C14 16 7.8 19.5 7.8 23.5 Z" fill="#e62828" fill-rule="evenodd"/>
<path d="M10.5 26.5 L17.5 22 L20 24.5 L27.5 19" fill="none" stroke="#e62828" stroke-width="2.8"/></svg><div class="t" style="left:1357.5px;top:9.7px;height:40px;font-size:28px;color:#dbe2ee;"><span>华盛通</span></div><div style="position:absolute;left:2576px;top:10px;width:360px;height:40px;background:#455872;"></div><div style="position:absolute;left:2578px;top:12px;width:356px;height:36px;background:#1f2a3b;"></div><div class="t" style="left:2588px;top:10.5px;height:40px;font-size:25px;color:#cfd8e8;"><span>00257.HK</span></div><svg style="position:absolute;left:3039px;top:19px" width="26" height="24" viewBox="0 0 26 24" fill="#a3abbc">
<path d="M1 3 L7 1 C9 3.5 17 3.5 19 1 L25 3 V12 H21 V22.5 H5 V12 H1 Z"/></svg><div style="position:absolute;left:3092px;top:16px;width:2px;height:30px;background:#1a1828;"></div><div style="position:absolute;left:3122px;top:28px;width:20.5px;height:4px;background:#a3abbc;"></div><svg style="position:absolute;left:3190px;top:20px" width="28" height="20" viewBox="0 0 28 20" fill="none" stroke="#a3abbc" stroke-width="2">
<rect x="3" y="7" width="16" height="10.5"/><rect x="9" y="3" width="16" height="10.5" fill="#243349"/></svg><svg style="position:absolute;left:3249px;top:17px" width="25" height="25" viewBox="0 0 25 25" stroke="#a3abbc" stroke-width="3.6">
<path d="M2.5 2.5 L22 22 M22 2.5 L2.5 22"/></svg><svg style="position:absolute;left:25px;top:76.5px" width="34" height="32" viewBox="0 0 34 32">
<rect x="2.5" y="2.5" width="9" height="26" fill="none" stroke="#8a92a2" stroke-width="3"/>
<path d="M16 16 L23 9 V13.5 H31 V18.5 H23 V23 Z" fill="#8a92a2"/></svg><div class="t" style="left:72px;top:73.0px;height:40px;font-size:31px;color:#dde4f0;transform:scaleX(1.062);transform-origin:0 50%;font-weight:bold;"><span>00257</span></div><div class="t" style="left:273px;top:71.5px;height:40px;font-size:24px;color:#d2dae8;"><span>分时</span></div><div class="t" style="left:385px;top:71.5px;height:40px;font-size:24px;color:#d2dae8;"><span>五日</span></div><div class="t" style="left:497px;top:71.5px;height:40px;font-size:24px;color:#f2a630;"><span>日</span><span>K</span></div><div class="t" style="left:606px;top:71.5px;height:40px;font-size:24px;color:#d2dae8;"><span>周</span><span>K</span></div><div class="t" style="left:716px;top:71.5px;height:40px;font-size:24px;color:#d2dae8;"><span>月</span><span>K</span></div><div class="t" style="left:826px;top:71.5px;height:40px;font-size:24px;color:#d2dae8;"><span>1</span><span>分</span></div><svg style="position:absolute;left:883px;top:88px" width="15" height="9" viewBox="0 0 15 9"><path d="M0 0 H15 L7.5 9 Z" fill="#8a92a2"/></svg><svg style="position:absolute;left:2430px;top:77px" width="30" height="30" viewBox="0 0 30 30" fill="#8a92a2">
<path d="M2 28 L4 20 L20 4 L26 10 L10 26 Z M22 2 L24 0.5 L29.5 6 L28 8 Z"/></svg><svg style="position:absolute;left:2483px;top:79px" width="26" height="26" viewBox="0 0 26 26" fill="#8a92a2">
<path d="M0 0 H7 V2.5 H2.5 V7 H0 Z M19 26 H26 V19 H23.5 V23.5 H19 Z"/>
<path d="M26 0 V9 L22.8 5.8 L17 11.5 L14.5 9 L20.2 3.2 L17 0 Z"/>
<path d="M0 26 V17 L3.2 20.2 L9 14.5 L11.5 17 L5.8 22.8 L9 26 Z"/></svg><svg style="position:absolute;left:2524px;top:77px" width="32" height="32" viewBox="0 0 32 32">
<rect x="19.5" y="2.5" width="9" height="26" fill="none" stroke="#8a92a2" stroke-width="3"/>
<path d="M16 16 L9 9 V13.5 H1 V18.5 H9 V23 Z" fill="#8a92a2"/></svg><svg style="position:absolute;left:21px;top:137px" width="15" height="10" viewBox="0 0 15 10"><path d="M0 0 H15 L7.5 10 Z" fill="#a9afbc"/></svg><div class="t" style="left:60.5px;top:121.0px;height:40px;font-size:25px;color:#d2dae8;transform:scaleX(1.135);transform-origin:0 50%;"><span>MA</span></div><div class="t" style="left:152.5px;top:121.0px;height:40px;font-size:24.5px;color:#e8992c;letter-spacing:0.78px;"><span>MA5:12.116</span></div><div class="t" style="left:319.5px;top:121.0px;height:40px;font-size:24.5px;color:#1a9ae0;letter-spacing:0.8px;"><span>MA10:11.870</span></div><div class="t" style="left:504.5px;top:121.0px;height:40px;font-size:24.5px;color:#d468d4;letter-spacing:0.63px;"><span>MA20:11.705</span></div><div class="t" style="left:686px;top:121.0px;height:40px;font-size:24.5px;color:#8f74ee;letter-spacing:0.65px;"><span>MA60:11.459</span></div><div class="t" style="left:870.5px;top:121.0px;height:40px;font-size:24.5px;color:#1fdc5a;letter-spacing:0.44px;"><span>MA120:10.972</span></div><div class="t" style="left:2296px;top:121.0px;height:40px;font-size:24px;color:#d2dae8;"><span>前复权</span></div><svg style="position:absolute;left:2391px;top:138px" width="15" height="10" viewBox="0 0 15 10"><path d="M0 0 H15 L7.5 10 Z" fill="#a9afbc"/></svg><div style="position:absolute;left:2440px;top:140.5px;width:20px;height:3px;background:#8a92a2;"></div><div style="position:absolute;left:2448.5px;top:132px;width:3px;height:20px;background:#8a92a2;"></div><div style="position:absolute;left:2490px;top:140.5px;width:20px;height:3px;background:#8a92a2;"></div><svg style="position:absolute;left:2532px;top:130px" width="24" height="24" viewBox="0 0 24 24">
<g fill="#8a92a2"><circle cx="12" cy="12" r="9.2"/>
<rect x="9.8" y="0" width="4.4" height="24"/><rect x="9.8" y="0" width="4.4" height="24" transform="rotate(60 12 12)"/><rect x="9.8" y="0" width="4.4" height="24" transform="rotate(120 12 12)"/></g>
<circle cx="12" cy="12" r="5.6" fill="#243349"/></svg><svg style="position:absolute;left:21px;top:819.5px" width="15" height="10" viewBox="0 0 15 10"><path d="M0 0 H15 L7.5 10 Z" fill="#a9afbc"/></svg><div class="t" style="left:52px;top:804.0px;height:40px;font-size:24.5px;color:#d2dae8;transform:scaleX(1.017);transform-origin:0 50%;"><span>VOL</span></div><div class="t" style="left:152.5px;top:804.0px;height:40px;font-size:24.5px;color:#d2dae8;letter-spacing:0.32px;"><span>VOL:916.12</span><span>万</span></div><div class="t" style="left:338.5px;top:804.0px;height:40px;font-size:24.5px;color:#e8992c;letter-spacing:0.89px;"><span>MAVOL5:1034.17</span><span>万</span></div><div class="t" style="left:596.5px;top:804.0px;height:40px;font-size:24.5px;color:#1a9ae0;letter-spacing:0.78px;"><span>MAVOL10:753.33</span><span>万</span></div><svg style="position:absolute;left:2494px;top:814px" width="20" height="20" viewBox="0 0 20 20" stroke="#8a92a2" stroke-width="3.4"><path d="M2 2 L18 18 M18 2 L2 18"/></svg><svg style="position:absolute;left:2534px;top:812px" width="24" height="24" viewBox="0 0 24 24">
<g fill="#8a92a2"><circle cx="12" cy="12" r="9.2"/>
<rect x="9.8" y="0" width="4.4" height="24"/><rect x="9.8" y="0" width="4.4" height="24" transform="rotate(60 12 12)"/><rect x="9.8" y="0" width="4.4" height="24" transform="rotate(120 12 12)"/></g>
<circle cx="12" cy="12" r="5.6" fill="#243349"/></svg><svg style="position:absolute;left:21px;top:1112.5px" width="15" height="10" viewBox="0 0 15 10"><path d="M0 0 H15 L7.5 10 Z" fill="#a9afbc"/></svg><div class="t" style="left:52.5px;top:1097.0px;height:40px;font-size:24.5px;color:#d2dae8;transform:scaleX(1.03);transform-origin:0 50%;"><span>MACD</span></div><div class="t" style="left:153px;top:1097.0px;height:40px;font-size:24.5px;color:#e8992c;letter-spacing:-0.06px;"><span>DIF:0.126</span></div><div class="t" style="left:290.5px;top:1097.0px;height:40px;font-size:24.5px;color:#1a9ae0;letter-spacing:-0.34px;"><span>DEA:0.053</span></div><div class="t" style="left:437px;top:1097.0px;height:40px;font-size:24.5px;color:#d2dae8;letter-spacing:0.16px;"><span>MACD:0.145</span></div><svg style="position:absolute;left:2494px;top:1107px" width="20" height="20" viewBox="0 0 20 20" stroke="#8a92a2" stroke-width="3.4"><path d="M2 2 L18 18 M18 2 L2 18"/></svg><svg style="position:absolute;left:2534px;top:1105px" width="24" height="24" viewBox="0 0 24 24">
<g fill="#8a92a2"><circle cx="12" cy="12" r="9.2"/>
<rect x="9.8" y="0" width="4.4" height="24"/><rect x="9.8" y="0" width="4.4" height="24" transform="rotate(60 12 12)"/><rect x="9.8" y="0" width="4.4" height="24" transform="rotate(120 12 12)"/></g>
<circle cx="12" cy="12" r="5.6" fill="#243349"/></svg><div class="t" style="left:2460px;top:196.5px;height:40px;font-size:22px;color:#d2dae8;letter-spacing:-0.3px;"><span>12.850</span></div><div class="t" style="left:2460px;top:356.0px;height:40px;font-size:22px;color:#d2dae8;letter-spacing:-0.3px;"><span>11.750</span></div><div class="t" style="left:2460px;top:436.0px;height:40px;font-size:22px;color:#d2dae8;letter-spacing:-0.3px;"><span>11.200</span></div><div class="t" style="left:2460px;top:516.0px;height:40px;font-size:22px;color:#d2dae8;letter-spacing:-0.3px;"><span>10.650</span></div><div class="t" style="left:2460px;top:595.5px;height:40px;font-size:22px;color:#d2dae8;letter-spacing:-0.3px;"><span>10.100</span></div><div class="t" style="left:2460px;top:675.5px;height:40px;font-size:22px;color:#d2dae8;letter-spacing:-0.3px;"><span>9.550</span></div><div class="t" style="left:2460px;top:745.0px;height:40px;font-size:22px;color:#d2dae8;letter-spacing:-0.3px;"><span>9.000</span></div><div style="position:absolute;left:2456px;top:288px;width:114px;height:34px;background:#c87812;"></div><div style="position:absolute;left:2458px;top:290px;width:110px;height:30px;background:#1e2a3b;"></div><div class="t" style="left:2460px;top:285.5px;height:40px;font-size:22px;color:#d2dae8;letter-spacing:-0.3px;"><span>12.220</span></div><div class="t" style="left:2459px;top:865.0px;height:40px;font-size:22px;color:#d2dae8;letter-spacing:-0.5px;"><span>6038.79</span><span style="font-size:21px">万</span></div><div class="t" style="left:2459px;top:917.0px;height:40px;font-size:22px;color:#d2dae8;letter-spacing:-0.5px;"><span>4529.09</span><span style="font-size:21px">万</span></div><div class="t" style="left:2459px;top:969.0px;height:40px;font-size:22px;color:#d2dae8;letter-spacing:-0.5px;"><span>3019.39</span><span style="font-size:21px">万</span></div><div class="t" style="left:2459px;top:1021.0px;height:40px;font-size:22px;color:#d2dae8;letter-spacing:-0.5px;"><span>1509.69</span><span style="font-size:21px">万</span></div><div class="t" style="left:2459px;top:1064.0px;height:40px;font-size:22px;color:#d2dae8;letter-spacing:-0.5px;"><span>0.00</span></div><div class="t" style="left:2459px;top:1162.0px;height:40px;font-size:22px;color:#d2dae8;letter-spacing:-0.5px;"><span>0.46</span></div><div class="t" style="left:2459px;top:1213.5px;height:40px;font-size:22px;color:#d2dae8;letter-spacing:-0.5px;"><span>0.23</span></div><div class="t" style="left:2459px;top:1265.5px;height:40px;font-size:22px;color:#d2dae8;letter-spacing:-0.5px;"><span>0.00</span></div><div class="t" style="left:2459px;top:1317.5px;height:40px;font-size:22px;color:#d2dae8;letter-spacing:-0.5px;"><span>-0.23</span></div><div class="t" style="left:2459px;top:1358.0px;height:40px;font-size:22px;color:#d2dae8;letter-spacing:-0.5px;"><span>-0.46</span></div><div class="t" style="left:1920.5px;top:192.0px;height:40px;font-size:22px;color:#d2dae8;letter-spacing:-0.3px;"><span>12.800</span></div><div class="t" style="left:209.5px;top:735.0px;height:40px;font-size:22px;color:#d2dae8;letter-spacing:-0.3px;"><span>9.240</span></div><div class="t" style="left:27px;top:1398.0px;height:40px;font-size:22px;color:#d2dae8;letter-spacing:0.2px;"><span>2017-07</span></div><div class="t" style="left:363px;top:1398.0px;height:40px;font-size:22px;color:#d2dae8;transform:translateX(-50%);letter-spacing:0.2px;"><span>08</span></div><div class="t" style="left:671px;top:1398.0px;height:40px;font-size:22px;color:#d2dae8;transform:translateX(-50%);letter-spacing:0.2px;"><span>09</span></div><div class="t" style="left:965px;top:1398.0px;height:40px;font-size:22px;color:#d2dae8;transform:translateX(-50%);letter-spacing:0.2px;"><span>10</span></div><div class="t" style="left:1245px;top:1398.0px;height:40px;font-size:22px;color:#d2dae8;transform:translateX(-50%);letter-spacing:0.2px;"><span>11</span></div><div class="t" style="left:1553px;top:1398.0px;height:40px;font-size:22px;color:#d2dae8;transform:translateX(-50%);letter-spacing:0.2px;"><span>12</span></div><div class="t" style="left:1819px;top:1398.0px;height:40px;font-size:22px;color:#d2dae8;transform:translateX(-50%);letter-spacing:0.2px;"><span>2018</span></div><div class="t" style="left:2127px;top:1398.0px;height:40px;font-size:22px;color:#d2dae8;transform:translateX(-50%);letter-spacing:0.2px;"><span>02</span></div><div class="t" style="left:2379px;top:1398.0px;height:40px;font-size:22px;color:#d2dae8;transform:translateX(-50%);letter-spacing:0.2px;"><span>03</span></div><div class="t" style="left:58px;top:1439.0px;height:40px;font-size:24px;color:#f2a630;transform:translateX(-50%) scaleX(1.22);transform-origin:50% 50%;"><span>MA</span></div><div class="t" style="left:158px;top:1439.0px;height:40px;font-size:24px;color:#f2a630;transform:translateX(-50%) scaleX(1.057);transform-origin:50% 50%;"><span>VOL</span></div><div class="t" style="left:258px;top:1439.0px;height:40px;font-size:24px;color:#f2a630;transform:translateX(-50%) scaleX(1.073);transform-origin:50% 50%;"><span>MACD</span></div><div class="t" style="left:358px;top:1439.0px;height:40px;font-size:24px;color:#d2dae8;transform:translateX(-50%) scaleX(0.984);transform-origin:50% 50%;"><span>KDJ</span></div><div class="t" style="left:458px;top:1439.0px;height:40px;font-size:24px;color:#d2dae8;transform:translateX(-50%) scaleX(0.951);transform-origin:50% 50%;"><span>RSI</span></div><div class="t" style="left:558px;top:1439.0px;height:40px;font-size:24px;color:#d2dae8;transform:translateX(-50%) scaleX(1.003);transform-origin:50% 50%;"><span>BOLL</span></div><div class="t" style="left:658px;top:1439.0px;height:40px;font-size:24px;color:#d2dae8;transform:translateX(-50%) scaleX(1.001);transform-origin:50% 50%;"><span>ARBR</span></div><div class="t" style="left:758px;top:1439.0px;height:40px;font-size:24px;color:#d2dae8;transform:translateX(-50%) scaleX(0.972);transform-origin:50% 50%;"><span>CCI</span></div><div class="t" style="left:858px;top:1439.0px;height:40px;font-size:24px;color:#d2dae8;transform:translateX(-50%) scaleX(1.147);transform-origin:50% 50%;"><span>DMA</span></div><div class="t" style="left:958px;top:1439.0px;height:40px;font-size:24px;color:#d2dae8;transform:translateX(-50%) scaleX(1.051);transform-origin:50% 50%;"><span>EMV</span></div><div class="t" style="left:1058px;top:1439.0px;height:40px;font-size:24px;color:#d2dae8;transform:translateX(-50%) scaleX(1.087);transform-origin:50% 50%;"><span>EMA</span></div><div class="t" style="left:1158px;top:1439.0px;height:40px;font-size:24px;color:#d2dae8;transform:translateX(-50%) scaleX(1.052);transform-origin:50% 50%;"><span>WR</span></div><div class="t" style="left:1258px;top:1439.0px;height:40px;font-size:24px;color:#d2dae8;transform:translateX(-50%) scaleX(1.132);transform-origin:50% 50%;"><span>MTM</span></div><div class="t" style="left:1358px;top:1439.0px;height:40px;font-size:24px;color:#d2dae8;transform:translateX(-50%) scaleX(1.051);transform-origin:50% 50%;"><span>OBV</span></div><div class="t" style="left:1458px;top:1439.0px;height:40px;font-size:24px;color:#d2dae8;transform:translateX(-50%) scaleX(0.898);transform-origin:50% 50%;"><span>PSY</span></div><div class="t" style="left:1558px;top:1439.0px;height:40px;font-size:24px;color:#d2dae8;transform:translateX(-50%) scaleX(0.962);transform-origin:50% 50%;"><span>VR</span></div><div class="t" style="left:1658px;top:1439.0px;height:40px;font-size:24px;color:#d2dae8;transform:translateX(-50%) scaleX(1.058);transform-origin:50% 50%;"><span>VOLV</span></div><div style="position:absolute;left:8px;top:1488px;width:2564px;height:56px;background:#17182a;"></div><div style="position:absolute;left:8px;top:1488px;width:58px;height:56px;background:#263850;"></div><div style="position:absolute;left:68px;top:1488px;width:118px;height:56px;background:#465a77;"></div><div style="position:absolute;left:188px;top:1488px;width:118px;height:56px;background:#263850;"></div><div style="position:absolute;left:308px;top:1488px;width:118px;height:56px;background:#263850;"></div><div style="position:absolute;left:428px;top:1488px;width:254px;height:56px;background:#263850;"></div><div style="position:absolute;left:684px;top:1488px;width:1770px;height:56px;background:#243349;"></div><div style="position:absolute;left:2456px;top:1488px;width:116px;height:56px;background:#263850;"></div><svg style="position:absolute;left:24px;top:1501px" width="29" height="29" viewBox="0 0 29 29" fill="#8a92a2">
<path d="M10 0 H19 V8 H25 L14.5 17 L4 8 H10 Z"/><path d="M0 18 H29 V29 H0 Z M4 22 V25 H25 V22 Z" fill-rule="evenodd"/></svg><div class="t" style="left:127px;top:1496.0px;height:40px;font-size:25px;color:#f2f5fa;transform:translateX(-50%);"><span style="font-weight:500">新闻</span></div><div class="t" style="left:247px;top:1496.0px;height:40px;font-size:25px;color:#d2dae8;transform:translateX(-50%);"><span>公告</span></div><div class="t" style="left:367px;top:1496.0px;height:40px;font-size:25px;color:#d2dae8;transform:translateX(-50%);"><span>研报</span></div><div class="t" style="left:555px;top:1496.0px;height:40px;font-size:25px;color:#d2dae8;transform:translateX(-50%);"><span>相关窝轮</span><span>/</span><span>牛熊</span></div><div class="t" style="left:2512px;top:1496.0px;height:40px;font-size:30px;color:#f2a630;transform:translateX(-50%);font-weight:bold;"><span>F10</span></div><div class="t" style="left:16px;top:1549.5px;height:40px;font-size:25px;color:#d2dae8;"><span>光大国际：国务院印发环境保护税法实施条例，固废龙头受益明显</span></div><div class="t" style="left:2592px;top:72.5px;height:40px;font-size:29px;color:#d6deec;"><span>00257</span></div><div class="t" style="left:2706.5px;top:72.5px;height:40px;font-size:27.9px;color:#d6deec;"><span>中国光大国际</span></div><div style="position:absolute;left:2902px;top:76px;width:28px;height:28px;border:2px solid #f0a830;border-radius:6px"></div><div class="t" style="left:2918px;top:72.0px;height:40px;font-size:24px;color:#f0a830;transform:translateX(-50%);"><span>融</span></div><div style="position:absolute;left:2942px;top:76px;width:28px;height:28px;border:2px solid #f0a830;border-radius:6px"></div><div class="t" style="left:2958px;top:72.0px;height:40px;font-size:24px;color:#f0a830;transform:translateX(-50%);"><span>沽</span></div><div style="position:absolute;left:2982px;top:76px;width:28px;height:28px;border:2px solid #4aa8ff;border-radius:6px"></div><div class="t" style="left:2998px;top:72.0px;height:40px;font-size:24px;color:#4aa8ff;transform:translateX(-50%);"><span>通</span></div><div style="position:absolute;left:3022px;top:76px;width:28px;height:28px;border:2px solid #f03838;border-radius:6px"></div><div class="t" style="left:3038px;top:72.0px;height:40px;font-size:24px;color:#f03838;transform:translateX(-50%);"><span>竞</span></div><div class="t" style="left:2597px;top:124.0px;height:40px;font-size:51px;color:#00c878;font-weight:bold;letter-spacing:1.15px;"><span>12.220</span></div><svg style="position:absolute;left:2780px;top:140px" width="17" height="20" viewBox="0 0 17 20"><path d="M5 0 H12 V9 H17 L8.5 20 L0 9 H5 Z" fill="#1aa054"/></svg><div class="t" style="left:2810px;top:133.5px;height:40px;font-size:24px;color:#00c878;font-weight:bold;letter-spacing:0.4px;"><span>-0.080</span></div><div class="t" style="left:2898px;top:133.5px;height:40px;font-size:24px;color:#00c878;font-weight:bold;letter-spacing:0.35px;"><span>-0.65%</span></div><div class="t" style="left:2592px;top:176.0px;height:40px;font-size:25px;color:#d2dae8;letter-spacing:0.3px;"><span>03-02</span></div><div class="t" style="left:2671px;top:176.0px;height:40px;font-size:25px;color:#d2dae8;"><span>16:08</span></div><div class="t" style="left:2732.5px;top:176.0px;height:40px;font-size:25px;color:#d2dae8;"><span>(</span></div><div class="t" style="left:2738.5px;top:176.0px;height:40px;font-size:25px;color:#d2dae8;"><span>北京</span></div><div class="t" style="left:2789.5px;top:176.0px;height:40px;font-size:25px;color:#d2dae8;"><span>)</span></div><div class="t" style="left:2816px;top:176.0px;height:40px;font-size:24.5px;color:#d2dae8;"><span>未开盘</span></div><div style="position:absolute;left:3066px;top:172px;width:40px;height:40px;background:#ff3b3b;border-radius:6px"></div><div class="t" style="left:3086px;top:172.0px;height:40px;font-size:25px;color:#ffffff;transform:translateX(-50%);"><span>买</span></div><div style="position:absolute;left:3122px;top:172px;width:40px;height:40px;background:#5cb2fa;border-radius:6px"></div><div class="t" style="left:3142px;top:172.0px;height:40px;font-size:25px;color:#ffffff;transform:translateX(-50%);"><span>卖</span></div><div style="position:absolute;left:3176px;top:172px;width:40px;height:40px;background:#f6b540;border-radius:6px"></div><div style="position:absolute;left:3186px;top:190px;width:20px;height:4px;background:#ffffff;"></div><div style="position:absolute;left:3194px;top:182px;width:4px;height:20px;background:#ffffff;"></div><div style="position:absolute;left:3232px;top:177px;width:2px;height:31px;background:#141a26;"></div><div style="position:absolute;left:3248px;top:182px;width:24px;height:4px;background:#8a92a2;"></div><div style="position:absolute;left:3248px;top:190px;width:24px;height:4px;background:#8a92a2;"></div><div style="position:absolute;left:3248px;top:198px;width:24px;height:4px;background:#8a92a2;"></div><div style="position:absolute;left:2590px;top:223px;width:684px;height:2px;background:#141a26;"></div><div class="t" style="left:2598px;top:231.5px;height:40px;font-size:24px;color:#d2dae8;"><span>今</span></div><div class="t" style="left:2646px;top:231.5px;height:40px;font-size:24px;color:#d2dae8;"><span>开</span></div><div class="t" style="left:2683.5px;top:231.5px;height:40px;font-size:24px;color:#00c878;font-weight:bold;letter-spacing:0.33px;"><span>12.240</span></div><div class="t" style="left:2836px;top:231.5px;height:40px;font-size:24px;color:#d2dae8;"><span>最</span></div><div class="t" style="left:2884px;top:231.5px;height:40px;font-size:24px;color:#d2dae8;"><span>高</span></div><div class="t" style="left:2921.5px;top:231.5px;height:40px;font-size:24px;color:#00c878;font-weight:bold;letter-spacing:0.33px;"><span>12.280</span></div><div class="t" style="left:3074px;top:231.5px;height:40px;font-size:24px;color:#d2dae8;"><span>昨</span></div><div class="t" style="left:3122px;top:231.5px;height:40px;font-size:24px;color:#d2dae8;"><span>收</span></div><div class="t" style="left:3159.5px;top:231.5px;height:40px;font-size:24px;color:#d2dae8;font-weight:bold;letter-spacing:0.33px;"><span>12.300</span></div><div class="t" style="left:2598px;top:271.5px;height:40px;font-size:24px;color:#d2dae8;"><span>最</span></div><div class="t" style="left:2646px;top:271.5px;height:40px;font-size:24px;color:#d2dae8;"><span>低</span></div><div class="t" style="left:2683.5px;top:271.5px;height:40px;font-size:24px;color:#00c878;font-weight:bold;letter-spacing:0.33px;"><span>12.100</span></div><div class="t" style="left:2836px;top:271.5px;height:40px;font-size:24px;color:#d2dae8;"><span>成交量</span></div><div class="t" style="left:2924px;top:271.5px;height:40px;font-size:24px;color:#d2dae8;font-weight:bold;letter-spacing:1.35px;"><span>916.12</span><span>万</span></div><div class="t" style="left:3074px;top:271.5px;height:40px;font-size:24px;color:#d2dae8;"><span>成交额</span></div><div class="t" style="left:3162px;top:271.5px;height:40px;font-size:24px;color:#d2dae8;font-weight:bold;letter-spacing:1.35px;"><span>1.11</span><span>亿</span></div><div class="t" style="left:2598px;top:311.5px;height:40px;font-size:24px;color:#d2dae8;"><span>市盈率</span></div><div class="t" style="left:2686px;top:311.5px;height:40px;font-size:24px;color:#d2dae8;font-weight:bold;letter-spacing:0.33px;"><span>19.678</span></div><div class="t" style="left:2836px;top:311.5px;height:40px;font-size:24px;color:#d2dae8;"><span>市净率</span></div><div class="t" style="left:2924px;top:311.5px;height:40px;font-size:24px;color:#d2dae8;font-weight:bold;letter-spacing:0.33px;"><span>3.150</span></div><div class="t" style="left:3074px;top:311.5px;height:40px;font-size:24px;color:#d2dae8;"><span>港市值</span></div><div class="t" style="left:3162px;top:311.5px;height:40px;font-size:24px;color:#d2dae8;font-weight:bold;letter-spacing:1.35px;"><span>547.78</span><span>亿</span></div><div class="t" style="left:2598px;top:351.5px;height:40px;font-size:24px;color:#d2dae8;"><span>每股盈利</span></div><div class="t" style="left:2710px;top:351.5px;height:40px;font-size:24px;color:#d2dae8;font-weight:bold;letter-spacing:0.33px;"><span>0.621</span></div><div class="t" style="left:2836px;top:351.5px;height:40px;font-size:24px;color:#d2dae8;"><span>每</span></div><div class="t" style="left:2884px;top:351.5px;height:40px;font-size:24px;color:#d2dae8;"><span>手</span></div><div class="t" style="left:2921.5px;top:351.5px;height:40px;font-size:24px;color:#d2dae8;font-weight:bold;letter-spacing:0.33px;"><span>1000</span></div><div class="t" style="left:3074px;top:351.5px;height:40px;font-size:24px;color:#d2dae8;"><span>总市值</span></div><div class="t" style="left:3162px;top:351.5px;height:40px;font-size:24px;color:#d2dae8;font-weight:bold;letter-spacing:1.35px;"><span>547.78</span><span>亿</span></div><div class="t" style="left:2598px;top:391.5px;height:40px;font-size:24px;color:#d2dae8;"><span>振</span></div><div class="t" style="left:2646px;top:391.5px;height:40px;font-size:24px;color:#d2dae8;"><span>幅</span></div><div class="t" style="left:2683.5px;top:391.5px;height:40px;font-size:24px;color:#d2dae8;font-weight:bold;letter-spacing:0.33px;"><span>1.463%</span></div><div class="t" style="left:2836px;top:391.5px;height:40px;font-size:24px;color:#d2dae8;"><span>换手率</span></div><div class="t" style="left:2924px;top:391.5px;height:40px;font-size:24px;color:#d2dae8;font-weight:bold;letter-spacing:0.33px;"><span>0.204%</span></div><div style="position:absolute;left:2574px;top:450px;width:718px;height:2px;background:#17182a;"></div><div style="position:absolute;left:2574px;top:452px;width:718px;height:46px;background:#243349;"></div><div style="position:absolute;left:2574px;top:498px;width:718px;height:2px;background:#17182a;"></div><div class="t" style="left:2592px;top:455.0px;height:40px;font-size:24px;color:#d2dae8;"><span>逐笔交易</span></div><div class="t" style="left:2703px;top:456.0px;height:40px;font-size:30px;color:#8a92a2;font-weight:bold;"><span>?</span></div><div class="t" style="left:2956px;top:455.0px;height:40px;font-size:24px;color:#d2dae8;"><span>成交统计</span></div><svg style="position:absolute;left:3247px;top:463px" width="26" height="26" viewBox="0 0 26 26" fill="#8a92a2">
<path d="M0 0 H7 V2.5 H2.5 V7 H0 Z M19 26 H26 V19 H23.5 V23.5 H19 Z"/>
<path d="M26 0 V9 L22.8 5.8 L17 11.5 L14.5 9 L20.2 3.2 L17 0 Z"/>
<path d="M0 26 V17 L3.2 20.2 L9 14.5 L11.5 17 L5.8 22.8 L9 26 Z"/></svg><div class="t" style="left:2591px;top:499.0px;height:40px;font-size:24.5px;color:#d2dae8;"><span>15:59</span></div><div class="t" style="left:2708px;top:499.0px;height:40px;font-size:24.5px;color:#00c878;"><span>12.180</span></div><div class="t" style="left:2886px;top:499.0px;height:40px;font-size:24.5px;color:#d2dae8;transform:translateX(-100%);"><span>1K</span></div><svg style="position:absolute;left:2908px;top:509px" width="16" height="19" viewBox="0 0 16 19"><path d="M8 0 L16 10 H11 V19 H5 V10 H0 Z" fill="#f01830"/></svg><div class="t" style="left:2956px;top:499.0px;height:40px;font-size:24.5px;color:#00c878;"><span>12.160</span></div><div class="t" style="left:3090px;top:499.0px;height:40px;font-size:24.5px;color:#d2dae8;transform:translateX(-50%);"><span>1.9M</span></div><div style="position:absolute;left:3144px;top:511.5px;width:132px;height:23.5px;background:#3b4a66;"></div><div style="position:absolute;left:3144px;top:511.5px;width:129.5px;height:23.5px;background:#4b6e9d;"></div><div class="t" style="left:3266px;top:504.5px;height:40px;font-size:21px;color:#c6d2e4;transform:translateX(-100%);"><span>20.48%</span></div><div class="t" style="left:2591px;top:539.0px;height:40px;font-size:24.5px;color:#d2dae8;"><span>15:59</span></div><div class="t" style="left:2672px;top:539.0px;height:40px;font-size:24.5px;color:#d2dae8;"><span>Y</span></div><div class="t" style="left:2708px;top:539.0px;height:40px;font-size:24.5px;color:#00c878;"><span>12.160</span></div><div class="t" style="left:2886px;top:539.0px;height:40px;font-size:24.5px;color:#d2dae8;transform:translateX(-100%);"><span>1K</span></div><div style="position:absolute;left:2908px;top:555px;width:16px;height:8px;background:#c4c4c4;"></div><div class="t" style="left:2956px;top:539.0px;height:40px;font-size:24.5px;color:#00c878;"><span>12.140</span></div><div class="t" style="left:3090px;top:539.0px;height:40px;font-size:24.5px;color:#d2dae8;transform:translateX(-50%);"><span>1.7M</span></div><div style="position:absolute;left:3144px;top:551.5px;width:132px;height:23.5px;background:#3b4a66;"></div><div style="position:absolute;left:3144px;top:551.5px;width:118.2px;height:23.5px;background:#4b6e9d;"></div><div class="t" style="left:3266px;top:544.5px;height:40px;font-size:21px;color:#c6d2e4;transform:translateX(-100%);"><span>18.70%</span></div><div class="t" style="left:2591px;top:579.0px;height:40px;font-size:24.5px;color:#d2dae8;"><span>15:59</span></div><div class="t" style="left:2708px;top:579.0px;height:40px;font-size:24.5px;color:#00c878;"><span>12.140</span></div><div class="t" style="left:2886px;top:579.0px;height:40px;font-size:24.5px;color:#d2dae8;transform:translateX(-100%);"><span>4K</span></div><svg style="position:absolute;left:2908px;top:589px" width="16" height="19" viewBox="0 0 16 19"><path d="M5 0 H11 V9 H16 L8 19 L0 9 H5 Z" fill="#1aa054"/></svg><div class="t" style="left:2956px;top:579.0px;height:40px;font-size:24.5px;color:#00c878;"><span>12.180</span></div><div class="t" style="left:3090px;top:579.0px;height:40px;font-size:24.5px;color:#d2dae8;transform:translateX(-50%);"><span>1.7M</span></div><div style="position:absolute;left:3144px;top:591.5px;width:132px;height:23.5px;background:#3b4a66;"></div><div style="position:absolute;left:3144px;top:591.5px;width:115.3px;height:23.5px;background:#4b6e9d;"></div><div class="t" style="left:3266px;top:584.5px;height:40px;font-size:21px;color:#c6d2e4;transform:translateX(-100%);"><span>18.23%</span></div><div class="t" style="left:2591px;top:619.0px;height:40px;font-size:24.5px;color:#d2dae8;"><span>15:59</span></div><div class="t" style="left:2708px;top:619.0px;height:40px;font-size:24.5px;color:#00c878;"><span>12.120</span></div><div class="t" style="left:2886px;top:619.0px;height:40px;font-size:24.5px;color:#d2dae8;transform:translateX(-100%);"><span>24K</span></div><svg style="position:absolute;left:2908px;top:629px" width="16" height="19" viewBox="0 0 16 19"><path d="M5 0 H11 V9 H16 L8 19 L0 9 H5 Z" fill="#1aa054"/></svg><div class="t" style="left:2956px;top:619.0px;height:40px;font-size:24.5px;color:#00c878;"><span>12.120</span></div><div class="t" style="left:3090px;top:619.0px;height:40px;font-size:24.5px;color:#d2dae8;transform:translateX(-50%);"><span>1.1M</span></div><div style="position:absolute;left:3144px;top:631.5px;width:132px;height:23.5px;background:#3b4a66;"></div><div style="position:absolute;left:3144px;top:631.5px;width:78.9px;height:23.5px;background:#4b6e9d;"></div><div class="t" style="left:3266px;top:624.5px;height:40px;font-size:21px;color:#c6d2e4;transform:translateX(-100%);"><span>12.48%</span></div><div class="t" style="left:2591px;top:659.0px;height:40px;font-size:24.5px;color:#d2dae8;"><span>15:59</span></div><div class="t" style="left:2708px;top:659.0px;height:40px;font-size:24.5px;color:#00c878;"><span>12.120</span></div><div class="t" style="left:2886px;top:659.0px;height:40px;font-size:24.5px;color:#d2dae8;transform:translateX(-100%);"><span>3K</span></div><svg style="position:absolute;left:2908px;top:669px" width="16" height="19" viewBox="0 0 16 19"><path d="M5 0 H11 V9 H16 L8 19 L0 9 H5 Z" fill="#1aa054"/></svg><div class="t" style="left:2956px;top:659.0px;height:40px;font-size:24.5px;color:#00c878;"><span>12.220</span></div><div class="t" style="left:3090px;top:659.0px;height:40px;font-size:24.5px;color:#d2dae8;transform:translateX(-50%);"><span>1.1M</span></div><div style="position:absolute;left:3144px;top:671.5px;width:132px;height:23.5px;background:#3b4a66;"></div><div style="position:absolute;left:3144px;top:671.5px;width:75.8px;height:23.5px;background:#4b6e9d;"></div><div class="t" style="left:3266px;top:664.5px;height:40px;font-size:21px;color:#c6d2e4;transform:translateX(-100%);"><span>11.99%</span></div><div class="t" style="left:2591px;top:699.0px;height:40px;font-size:24.5px;color:#d2dae8;"><span>16:08</span></div><div class="t" style="left:2672px;top:699.0px;height:40px;font-size:24.5px;color:#d2dae8;"><span>U</span></div><div class="t" style="left:2708px;top:699.0px;height:40px;font-size:24.5px;color:#00c878;"><span>12.220</span></div><div class="t" style="left:2886px;top:699.0px;height:40px;font-size:24.5px;color:#d2dae8;transform:translateX(-100%);"><span>824K</span></div><div style="position:absolute;left:2908px;top:715px;width:16px;height:8px;background:#c4c4c4;"></div><div class="t" style="left:2956px;top:699.0px;height:40px;font-size:24.5px;color:#00c878;"><span>12.233</span></div><div class="t" style="left:3090px;top:699.0px;height:40px;font-size:24.5px;color:#d2dae8;transform:translateX(-50%);"><span>852.0K</span></div><div style="position:absolute;left:3144px;top:711.5px;width:132px;height:23.5px;background:#3b4a66;"></div><div style="position:absolute;left:3144px;top:711.5px;width:58.8px;height:23.5px;background:#4b6e9d;"></div><div class="t" style="left:3266px;top:704.5px;height:40px;font-size:21px;color:#c6d2e4;transform:translateX(-100%);"><span>9.30%</span></div><div style="position:absolute;left:2574px;top:738px;width:718px;height:2px;background:#17182a;"></div><div style="position:absolute;left:2574px;top:740px;width:718px;height:48px;background:#243349;"></div><div class="t" style="left:2592px;top:742.5px;height:40px;font-size:24px;color:#d2dae8;"><span>买盘五档</span></div><div class="t" style="left:2952px;top:742.5px;height:40px;font-size:24px;color:#d2dae8;"><span>卖盘五档</span></div><div style="position:absolute;left:3206px;top:746px;width:35px;height:35px;background:#3b4758;border-radius:7px"></div><div class="t" style="left:3224px;top:744.0px;height:40px;font-size:26px;color:#e8edf5;transform:translateX(-50%);font-weight:bold;"><span>5</span></div><div class="t" style="left:3267px;top:744.0px;height:40px;font-size:25px;color:#98a1b2;transform:translateX(-50%);"><span>10</span></div><div style="position:absolute;left:2574px;top:788px;width:718px;height:30px;background:#64b5fb;"></div><div style="position:absolute;left:2574px;top:788px;width:39px;height:30px;background:#ff3b3b;"></div><div class="t" style="left:2597px;top:782.0px;height:40px;font-size:20px;color:#f4f6fa;"><span>5.89%</span></div><div class="t" style="left:3268px;top:782.0px;height:40px;font-size:20px;color:#f4f6fa;transform:translateX(-100%);"><span>94.11%</span></div><div style="position:absolute;left:2574px;top:818px;width:357px;height:198px;background:#252b38;"></div><div style="position:absolute;left:2934px;top:818px;width:358px;height:198px;background:#1e2c40;"></div><div style="position:absolute;left:2931px;top:818px;width:3px;height:198px;background:#17182a;"></div><div style="position:absolute;left:2574px;top:818px;width:357px;height:40px;background:#5c2d00;"></div><div style="position:absolute;left:2934px;top:818px;width:354px;height:40px;background:#304a6e;"></div><div style="position:absolute;left:2594px;top:825.5px;width:24px;height:24px;background:#b63e4e;"></div><div class="t" style="left:2606px;top:818.0px;height:40px;font-size:19px;color:#f2e8ea;transform:translateX(-50%);font-weight:bold;"><span>1</span></div><div class="t" style="left:2650px;top:817.5px;height:40px;font-size:24.5px;color:#00c878;"><span>12.160</span></div><div class="t" style="left:2839px;top:817.5px;height:40px;font-size:24.5px;color:#d2dae8;transform:translateX(-100%);"><span>29K</span></div><div class="t" style="left:2913px;top:817.5px;height:40px;font-size:24.5px;color:#d2dae8;transform:translateX(-100%);"><span>(1)</span></div><div style="position:absolute;left:2952px;top:825.5px;width:24px;height:24px;background:#4a88c6;"></div><div class="t" style="left:2964px;top:818.0px;height:40px;font-size:19px;color:#eef3fa;transform:translateX(-50%);font-weight:bold;"><span>1</span></div><div class="t" style="left:3008px;top:817.5px;height:40px;font-size:24.5px;color:#00c878;"><span>12.220</span></div><div class="t" style="left:3196px;top:817.5px;height:40px;font-size:24.5px;color:#d2dae8;transform:translateX(-100%);"><span>463K</span></div><div class="t" style="left:3271.5px;top:817.5px;height:40px;font-size:24.5px;color:#d2dae8;transform:translateX(-100%);"><span>(12)</span></div><div style="position:absolute;left:2594px;top:865.5px;width:24px;height:24px;background:#b63e4e;"></div><div class="t" style="left:2606px;top:858.0px;height:40px;font-size:19px;color:#f2e8ea;transform:translateX(-50%);font-weight:bold;"><span>2</span></div><div class="t" style="left:2650px;top:857.5px;height:40px;font-size:24.5px;color:#00c878;"><span>12.140</span></div><div class="t" style="left:2839px;top:857.5px;height:40px;font-size:24.5px;color:#d2dae8;transform:translateX(-100%);"><span>230K</span></div><div class="t" style="left:2913px;top:857.5px;height:40px;font-size:24.5px;color:#d2dae8;transform:translateX(-100%);"><span>(3)</span></div><div style="position:absolute;left:2952px;top:865.5px;width:24px;height:24px;background:#4a88c6;"></div><div class="t" style="left:2964px;top:858.0px;height:40px;font-size:19px;color:#eef3fa;transform:translateX(-50%);font-weight:bold;"><span>2</span></div><div class="t" style="left:3008px;top:857.5px;height:40px;font-size:24.5px;color:#00c878;"><span>12.240</span></div><div class="t" style="left:3196px;top:857.5px;height:40px;font-size:24.5px;color:#d2dae8;transform:translateX(-100%);"><span>286K</span></div><div class="t" style="left:3271.5px;top:857.5px;height:40px;font-size:24.5px;color:#d2dae8;transform:translateX(-100%);"><span>(7)</span></div><div style="position:absolute;left:2594px;top:905.5px;width:24px;height:24px;background:#b63e4e;"></div><div class="t" style="left:2606px;top:898.0px;height:40px;font-size:19px;color:#f2e8ea;transform:translateX(-50%);font-weight:bold;"><span>3</span></div><div class="t" style="left:2650px;top:897.5px;height:40px;font-size:24.5px;color:#00c878;"><span>12.120</span></div><div class="t" style="left:2839px;top:897.5px;height:40px;font-size:24.5px;color:#d2dae8;transform:translateX(-100%);"><span>214K</span></div><div class="t" style="left:2913px;top:897.5px;height:40px;font-size:24.5px;color:#d2dae8;transform:translateX(-100%);"><span>(7)</span></div><div style="position:absolute;left:2952px;top:905.5px;width:24px;height:24px;background:#4a88c6;"></div><div class="t" style="left:2964px;top:898.0px;height:40px;font-size:19px;color:#eef3fa;transform:translateX(-50%);font-weight:bold;"><span>3</span></div><div class="t" style="left:3008px;top:897.5px;height:40px;font-size:24.5px;color:#00c878;"><span>12.260</span></div><div class="t" style="left:3196px;top:897.5px;height:40px;font-size:24.5px;color:#d2dae8;transform:translateX(-100%);"><span>341K</span></div><div class="t" style="left:3271.5px;top:897.5px;height:40px;font-size:24.5px;color:#d2dae8;transform:translateX(-100%);"><span>(7)</span></div><div style="position:absolute;left:2594px;top:945.5px;width:24px;height:24px;background:#b63e4e;"></div><div class="t" style="left:2606px;top:938.0px;height:40px;font-size:19px;color:#f2e8ea;transform:translateX(-50%);font-weight:bold;"><span>4</span></div><div class="t" style="left:2650px;top:937.5px;height:40px;font-size:24.5px;color:#00c878;"><span>12.100</span></div><div class="t" style="left:2839px;top:937.5px;height:40px;font-size:24.5px;color:#d2dae8;transform:translateX(-100%);"><span>183K</span></div><div class="t" style="left:2913px;top:937.5px;height:40px;font-size:24.5px;color:#d2dae8;transform:translateX(-100%);"><span>(10)</span></div><div style="position:absolute;left:2952px;top:945.5px;width:24px;height:24px;background:#4a88c6;"></div><div class="t" style="left:2964px;top:938.0px;height:40px;font-size:19px;color:#eef3fa;transform:translateX(-50%);font-weight:bold;"><span>4</span></div><div class="t" style="left:3008px;top:937.5px;height:40px;font-size:24.5px;color:#00c878;"><span>12.280</span></div><div class="t" style="left:3196px;top:937.5px;height:40px;font-size:24.5px;color:#d2dae8;transform:translateX(-100%);"><span>47K</span></div><div class="t" style="left:3271.5px;top:937.5px;height:40px;font-size:24.5px;color:#d2dae8;transform:translateX(-100%);"><span>(3)</span></div><div style="position:absolute;left:2594px;top:985.5px;width:24px;height:24px;background:#b63e4e;"></div><div class="t" style="left:2606px;top:978.0px;height:40px;font-size:19px;color:#f2e8ea;transform:translateX(-50%);font-weight:bold;"><span>5</span></div><div class="t" style="left:2650px;top:977.5px;height:40px;font-size:24.5px;color:#00c878;"><span>12.080</span></div><div class="t" style="left:2839px;top:977.5px;height:40px;font-size:24.5px;color:#d2dae8;transform:translateX(-100%);"><span>447K</span></div><div class="t" style="left:2913px;top:977.5px;height:40px;font-size:24.5px;color:#d2dae8;transform:translateX(-100%);"><span>(9)</span></div><div style="position:absolute;left:2952px;top:985.5px;width:24px;height:24px;background:#4a88c6;"></div><div class="t" style="left:2964px;top:978.0px;height:40px;font-size:19px;color:#eef3fa;transform:translateX(-50%);font-weight:bold;"><span>5</span></div><div class="t" style="left:3008px;top:977.5px;height:40px;font-size:24.5px;color:#d2dae8;"><span>12.300</span></div><div class="t" style="left:3196px;top:977.5px;height:40px;font-size:24.5px;color:#d2dae8;transform:translateX(-100%);"><span>62K</span></div><div class="t" style="left:3271.5px;top:977.5px;height:40px;font-size:24.5px;color:#d2dae8;transform:translateX(-100%);"><span>(6)</span></div><div style="position:absolute;left:2574px;top:1016px;width:718px;height:2px;background:#17182a;"></div><div style="position:absolute;left:2574px;top:1018px;width:718px;height:46px;background:#243349;"></div><div style="position:absolute;left:2574px;top:1064px;width:718px;height:2px;background:#17182a;"></div><div class="t" style="left:2592px;top:1021.5px;height:40px;font-size:24px;color:#d2dae8;"><span>买盘经纪</span></div><div class="t" style="left:2956px;top:1021.5px;height:40px;font-size:24px;color:#d2dae8;"><span>卖盘经纪</span></div><div style="position:absolute;left:3206px;top:1024px;width:35px;height:35px;background:#3b4758;border-radius:7px"></div><div style="position:absolute;left:3212px;top:1032px;width:4px;height:4px;background:#f0f3f8;"></div><div style="position:absolute;left:3219px;top:1032px;width:16px;height:4px;background:#f0f3f8;"></div><div style="position:absolute;left:3212px;top:1040px;width:4px;height:4px;background:#f0f3f8;"></div><div style="position:absolute;left:3219px;top:1040px;width:16px;height:4px;background:#f0f3f8;"></div><div style="position:absolute;left:3212px;top:1048px;width:4px;height:4px;background:#f0f3f8;"></div><div style="position:absolute;left:3219px;top:1048px;width:16px;height:4px;background:#f0f3f8;"></div><div style="position:absolute;left:3258.0px;top:1032.0px;width:4px;height:4px;background:#8a92a2;"></div><div style="position:absolute;left:3258.0px;top:1040.5px;width:4px;height:4px;background:#8a92a2;"></div><div style="position:absolute;left:3258.0px;top:1049.0px;width:4px;height:4px;background:#8a92a2;"></div><div style="position:absolute;left:3266.5px;top:1032.0px;width:4px;height:4px;background:#8a92a2;"></div><div style="position:absolute;left:3266.5px;top:1040.5px;width:4px;height:4px;background:#8a92a2;"></div><div style="position:absolute;left:3266.5px;top:1049.0px;width:4px;height:4px;background:#8a92a2;"></div><div style="position:absolute;left:3275.0px;top:1032.0px;width:4px;height:4px;background:#8a92a2;"></div><div style="position:absolute;left:3275.0px;top:1040.5px;width:4px;height:4px;background:#8a92a2;"></div><div style="position:absolute;left:3275.0px;top:1049.0px;width:4px;height:4px;background:#8a92a2;"></div><div style="position:absolute;left:2931px;top:1066px;width:3px;height:493px;background:#17182a;"></div><div class="t" style="left:2589px;top:1070.5px;height:40px;font-size:25px;color:#f03a3a;"><span>买</span><span>1</span></div><div class="t" style="left:2677px;top:1070.5px;height:40px;font-size:24.5px;color:#d2dae8;"><span>3443</span></div><div class="t" style="left:2781px;top:1071.5px;height:40px;font-size:24px;color:#d2dae8;"><span>高盛</span><span>(</span><span>亚洲</span><span>)</span></div><div class="t" style="left:2948px;top:1070.5px;height:40px;font-size:25px;color:#4aa6f6;"><span>卖</span><span>1</span></div><div class="t" style="left:3037px;top:1070.5px;height:40px;font-size:24.5px;color:#d2dae8;"><span>5344</span></div><div class="t" style="left:3140px;top:1071.5px;height:40px;font-size:24px;color:#d2dae8;"><span>摩根大通</span></div><div class="t" style="left:2589px;top:1118.43px;height:40px;font-size:25px;color:#f03a3a;"><span>买</span><span>2</span></div><div class="t" style="left:2677px;top:1118.43px;height:40px;font-size:24.5px;color:#d2dae8;"><span>4371</span></div><div class="t" style="left:2781px;top:1119.43px;height:40px;font-size:24px;color:#d2dae8;"><span>巴克莱</span></div><div class="t" style="left:3037px;top:1118.43px;height:40px;font-size:24.5px;color:#d2dae8;"><span>5346</span></div><div class="t" style="left:3140px;top:1119.43px;height:40px;font-size:24px;color:#d2dae8;"><span>摩根大通</span></div><div class="t" style="left:2677px;top:1166.36px;height:40px;font-size:24.5px;color:#d2dae8;"><span>3443</span></div><div class="t" style="left:2781px;top:1167.36px;height:40px;font-size:24px;color:#d2dae8;"><span>高盛</span><span>(</span><span>亚洲</span><span>)</span></div><div class="t" style="left:3037px;top:1166.36px;height:40px;font-size:24.5px;color:#d2dae8;"><span>9024</span></div><div class="t" style="left:3140px;top:1167.36px;height:40px;font-size:24px;color:#d2dae8;"><span>瑞银</span></div><div class="t" style="left:2677px;top:1214.29px;height:40px;font-size:24.5px;color:#d2dae8;"><span>1193</span></div><div class="t" style="left:2781px;top:1215.29px;height:40px;font-size:24px;color:#d2dae8;"><span>瑞士信贷</span></div><div class="t" style="left:3037px;top:1214.29px;height:40px;font-size:24.5px;color:#d2dae8;"><span>9028</span></div><div class="t" style="left:3140px;top:1215.29px;height:40px;font-size:24px;color:#d2dae8;"><span>瑞银</span></div><div class="t" style="left:2589px;top:1262.22px;height:40px;font-size:25px;color:#f03a3a;"><span>买</span><span>3</span></div><div class="t" style="left:2677px;top:1262.22px;height:40px;font-size:24.5px;color:#d2dae8;"><span>2077</span></div><div class="t" style="left:2781px;top:1263.22px;height:40px;font-size:24px;color:#d2dae8;"><span>巴克莱</span></div><div class="t" style="left:3037px;top:1262.22px;height:40px;font-size:24.5px;color:#d2dae8;"><span>4371</span></div><div class="t" style="left:3140px;top:1263.22px;height:40px;font-size:24px;color:#d2dae8;"><span>巴克莱</span></div><div class="t" style="left:2677px;top:1310.15px;height:40px;font-size:24.5px;color:#d2dae8;"><span>3077</span></div><div class="t" style="left:2781px;top:1311.15px;height:40px;font-size:24px;color:#d2dae8;"><span>摩根士丹利</span></div><div class="t" style="left:3037px;top:1310.15px;height:40px;font-size:24.5px;color:#d2dae8;"><span>4371</span></div><div class="t" style="left:3140px;top:1311.15px;height:40px;font-size:24px;color:#d2dae8;"><span>巴克莱</span></div><div class="t" style="left:2677px;top:1358.08px;height:40px;font-size:24.5px;color:#d2dae8;"><span>4371</span></div><div class="t" style="left:2781px;top:1359.08px;height:40px;font-size:24px;color:#d2dae8;"><span>巴克莱</span></div><div class="t" style="left:3037px;top:1358.08px;height:40px;font-size:24.5px;color:#d2dae8;"><span>4371</span></div><div class="t" style="left:3140px;top:1359.08px;height:40px;font-size:24px;color:#d2dae8;"><span>巴克莱</span></div><div class="t" style="left:2677px;top:1406.01px;height:40px;font-size:24.5px;color:#d2dae8;"><span>4371</span></div><div class="t" style="left:2781px;top:1407.01px;height:40px;font-size:24px;color:#d2dae8;"><span>巴克莱</span></div><div class="t" style="left:3037px;top:1406.01px;height:40px;font-size:24.5px;color:#d2dae8;"><span>4371</span></div><div class="t" style="left:3140px;top:1407.01px;height:40px;font-size:24px;color:#d2dae8;"><span>巴克莱</span></div><div class="t" style="left:2677px;top:1453.94px;height:40px;font-size:24.5px;color:#d2dae8;"><span>4371</span></div><div class="t" style="left:2781px;top:1454.94px;height:40px;font-size:24px;color:#d2dae8;"><span>巴克莱</span></div><div class="t" style="left:3037px;top:1453.94px;height:40px;font-size:24.5px;color:#d2dae8;"><span>0830</span></div><div class="t" style="left:3140px;top:1454.94px;height:40px;font-size:24px;color:#d2dae8;"><span>广发行</span></div><div class="t" style="left:2677px;top:1501.87px;height:40px;font-size:24.5px;color:#d2dae8;"><span>4371</span></div><div class="t" style="left:2781px;top:1502.87px;height:40px;font-size:24px;color:#d2dae8;"><span>巴克莱</span></div><div class="t" style="left:3037px;top:1501.87px;height:40px;font-size:24.5px;color:#d2dae8;"><span>5337</span></div><div class="t" style="left:3140px;top:1502.87px;height:40px;font-size:24px;color:#d2dae8;"><span>摩根大通</span></div>
</body></html>
